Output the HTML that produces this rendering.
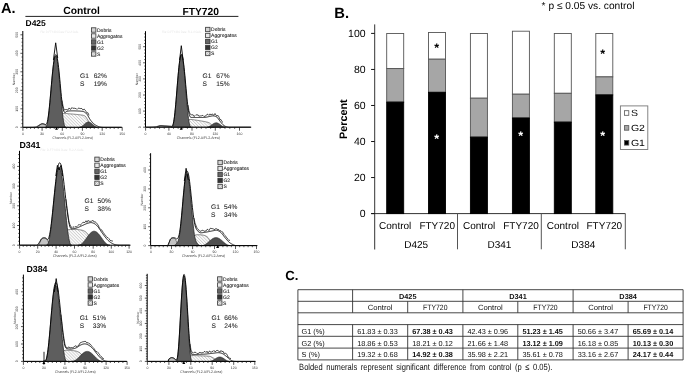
<!DOCTYPE html><html><head><meta charset="utf-8"><style>
html,body{margin:0;padding:0;background:#fff;}svg{filter:grayscale(100%);}body{width:685px;height:374px;overflow:hidden;position:relative;}
svg{position:absolute;left:0;top:0;}text{font-family:"Liberation Sans",sans-serif;text-rendering:geometricPrecision;}
</style></head><body>
<svg width="685" height="374" viewBox="0 0 685 374">
<defs><pattern id="hatch" width="2.2" height="2.2" patternUnits="userSpaceOnUse" patternTransform="rotate(-45)"><rect width="2.2" height="2.2" fill="#fafafa"/><line x1="0" y1="0" x2="0" y2="2.2" stroke="#888" stroke-width="0.6"/></pattern>
<pattern id="hatch2" width="1.6" height="1.6" patternUnits="userSpaceOnUse" patternTransform="rotate(45)"><rect width="1.6" height="1.6" fill="#eee"/><line x1="0" y1="0" x2="0" y2="1.6" stroke="#555" stroke-width="0.5"/></pattern></defs>
<text x="1" y="12.9" font-size="14.6" font-weight="bold" fill="#000">A.</text>
<text x="63.3" y="14.4" font-size="10.3" font-weight="bold" fill="#000">Control</text>
<text x="182.4" y="14.6" font-size="10.3" font-weight="bold" fill="#000">FTY720</text>
<path d="M25.4,16.4H238.4" stroke="#222" stroke-width="1"/>
<text x="25.5" y="26.3" font-size="8.5" font-weight="bold" fill="#000">D425</text>
<text x="19.4" y="148.0" font-size="8.8" font-weight="bold" fill="#000">D341</text>
<text x="26.4" y="271.7" font-size="8.8" font-weight="bold" fill="#000">D384</text>
<path d="M59,127.3 L59,127.3 L59.4,126 L59.8,124.13 L60.2,122.01 L60.6,119.96 L61,118.3 L61.4,116.66 L61.8,115.33 L62.2,114.33 L62.6,113.77 L63,113.67 L63.4,113.59 L63.8,113.53 L64.2,113.49 L64.6,113.47 L65,113.46 L65.4,113.47 L65.8,113.48 L66.2,113.51 L66.6,113.54 L67,113.58 L67.4,113.63 L67.8,113.67 L68.2,113.72 L68.6,113.77 L69,113.81 L69.4,113.85 L69.8,113.89 L70.2,113.91 L70.6,113.93 L71,113.96 L71.4,113.98 L71.8,114.01 L72.2,114.04 L72.6,114.07 L73,114.1 L73.4,114.14 L73.8,114.17 L74.2,114.21 L74.6,114.24 L75,114.28 L75.4,114.32 L75.8,114.36 L76.2,114.4 L76.6,114.44 L77,114.48 L77.4,114.52 L77.8,114.57 L78.2,114.61 L78.6,114.65 L79,114.69 L79.4,114.74 L79.8,114.78 L80.2,114.84 L80.6,114.91 L81,114.97 L81.4,115.03 L81.8,115.08 L82.2,115.14 L82.6,115.2 L83,115.28 L83.4,115.38 L83.8,115.49 L84.2,115.63 L84.6,115.8 L85,116 L85.4,116.42 L85.8,116.92 L86.2,117.49 L86.6,118.1 L87,118.74 L87.4,119.38 L87.8,120 L88.2,120.66 L88.6,121.41 L89,122.18 L89.4,122.95 L89.8,123.68 L90.2,124.35 L90.6,124.97 L91,125.62 L91.4,126.2 L91.8,126.69 L92.2,127.08 L92.6,127.3 L92.6,127.3Z" fill="url(#hatch)" stroke="#333" stroke-width="0.6"/>
<path d="M37,127.3 L37,127.3 L37.4,127.05 L37.8,126.69 L38.2,126.28 L38.6,125.86 L39,125.5 L39.4,125.28 L39.8,125.04 L40.2,124.81 L40.6,124.59 L41,124.4 L41.4,124.24 L41.8,124.13 L42.2,124.08 L42.6,124.09 L43,124.15 L43.4,124.24 L43.8,124.36 L44.2,124.5 L44.6,124.65 L45,124.8 L45.4,125.06 L45.8,125.37 L46.2,125.7 L46.6,126.02 L47,126.3 L47.4,126.55 L47.8,126.78 L48.2,127 L48.6,127.17 L49,127.3 L49,127.3Z" fill="#c4c4c4" stroke="#333" stroke-width="0.6"/>
<path d="M79.4,127.3 L79.4,127.27 L79.8,127.22 L80.2,127.14 L80.6,127.02 L81,126.86 L81.4,126.65 L81.8,126.41 L82.2,126.14 L82.6,125.83 L83,125.5 L83.4,125.15 L83.8,124.79 L84.2,124.43 L84.6,124.07 L85,123.72 L85.4,123.39 L85.8,123.08 L86.2,122.8 L86.6,122.55 L87,122.35 L87.4,122.19 L87.8,122.08 L88.2,122.01 L88.6,122 L89,122.04 L89.4,122.13 L89.8,122.26 L90.2,122.45 L90.6,122.67 L91,122.93 L91.4,123.23 L91.8,123.55 L92.2,123.89 L92.6,124.25 L93,124.61 L93.4,124.97 L93.8,125.33 L94.2,125.67 L94.6,125.99 L95,126.28 L95.4,126.54 L95.8,126.76 L96.2,126.94 L96.6,127.08 L97,127.19 L97.4,127.25 L97.4,127.3Z" fill="#4e4e4e" stroke="#222" stroke-width="0.6"/>
<path d="M45.4,127.3 L45.4,127.29 L45.8,127.15 L46.2,126.76 L46.6,126 L47,124.82 L47.4,123.17 L47.8,121.04 L48.2,118.42 L48.6,115.35 L49,111.86 L49.4,108.01 L49.8,103.86 L50.2,99.47 L50.6,94.94 L51,90.33 L51.4,85.72 L51.8,81.21 L52.2,76.87 L52.6,72.77 L53,69 L53.4,65.6 L53.8,62.65 L54.2,60.2 L54.6,58.28 L55,56.93 L55.4,56.17 L55.8,56.02 L56.2,56.48 L56.6,57.56 L57,59.23 L57.4,61.46 L57.8,64.22 L58.2,67.45 L58.6,71.1 L59,75.11 L59.4,79.4 L59.8,83.89 L60.2,88.51 L60.6,93.17 L61,97.79 L61.4,102.28 L61.8,106.57 L62.2,110.57 L62.6,114.22 L63,117.47 L63.4,120.26 L63.8,122.57 L64.2,124.38 L64.6,125.71 L65,126.59 L65.4,127.08 L65.8,127.27 L65.8,127.3Z" fill="#5e5e5e" stroke="#1a1a1a" stroke-width="0.7"/>
<path d="M23.4,127.3 L23.8,127.3 L24.2,127.3 L24.6,127.3 L25,127.3 L25.4,127.3 L25.8,127.3 L26.2,127.3 L26.6,127.3 L27,127.3 L27.4,127.3 L27.8,127.3 L28.2,127.3 L28.6,127.3 L29,127.3 L29.4,127.3 L29.8,127.3 L30.2,127.3 L30.6,127.29 L31,127.28 L31.4,127.28 L31.8,127.28 L32.2,127.27 L32.6,127.27 L33,127.26 L33.4,127.24 L33.8,127.23 L34.2,127.2 L34.6,127.17 L35,127.13 L35.4,127.09 L35.8,127.03 L36.2,126.93 L36.6,126.75 L37,126.53 L37.4,126.29 L37.8,126.04 L38.2,125.78 L38.6,125.53 L39,125.3 L39.4,125.06 L39.8,124.81 L40.2,124.55 L40.6,124.29 L41,124.07 L41.4,123.88 L41.8,123.74 L42.2,123.67 L42.6,123.66 L43,123.7 L43.4,123.78 L43.8,123.89 L44.2,124.02 L44.6,124.16 L45,124.3 L45.4,124.45 L45.8,124.51 L46.2,124.34 L46.6,123.82 L47,122.86 L47.4,121.42 L47.8,119.46 L48.2,116.97 L48.6,113.99 L49,110.58 L49.4,106.8 L49.8,102.71 L50.2,98.37 L50.6,93.88 L51,89.3 L51.4,84.71 L51.8,80.21 L52.2,75.87 L52.6,71.77 L53,67.99 L53.4,64.58 L53.8,61.61 L54.2,59.11 L54.6,57.14 L55,55.72 L55.4,54.86 L55.8,54.59 L56.2,54.88 L56.6,55.69 L57,57.04 L57.4,58.93 L57.8,61.31 L58.2,64.17 L58.6,67.45 L59,71.11 L59.4,75.09 L59.8,79.31 L60.2,83.66 L60.6,88.04 L61,92.35 L61.4,96.48 L61.8,100.32 L62.2,103.63 L62.6,106.23 L63,108.28 L63.4,109.86 L63.8,111.05 L64.2,111.94 L64.6,112.43 L65,112.55 L65.4,112.37 L65.8,112.01 L66.2,111.7 L66.6,111.51 L67,111.37 L67.4,111.25 L67.8,111.16 L68.2,111.09 L68.6,111.03 L69,110.99 L69.4,110.95 L69.8,110.92 L70.2,110.89 L70.6,110.88 L71,110.87 L71.4,110.87 L71.8,110.86 L72.2,110.86 L72.6,110.86 L73,110.86 L73.4,110.87 L73.8,110.87 L74.2,110.88 L74.6,110.89 L75,110.9 L75.4,110.91 L75.8,110.92 L76.2,110.94 L76.6,110.95 L77,110.97 L77.4,110.98 L77.8,111 L78.2,111.02 L78.6,111.04 L79,111.05 L79.4,111.07 L79.8,111.09 L80.2,111.12 L80.6,111.16 L81,111.2 L81.4,111.24 L81.8,111.28 L82.2,111.33 L82.6,111.4 L83,111.49 L83.4,111.59 L83.8,111.72 L84.2,111.91 L84.6,112.14 L85,112.41 L85.4,112.7 L85.8,113.03 L86.2,113.41 L86.6,113.83 L87,114.3 L87.4,114.86 L87.8,115.51 L88.2,116.23 L88.6,116.97 L89,117.71 L89.4,118.41 L89.8,119.03 L90.2,119.66 L90.6,120.28 L91,120.79 L91.4,121.26 L91.8,121.74 L92.2,122.19 L92.6,122.57 L93,122.96 L93.4,123.35 L93.8,123.74 L94.2,124.12 L94.6,124.47 L95,124.8 L95.4,125.03 L95.8,125.26 L96.2,125.48 L96.6,125.69 L97,125.89 L97.4,126.08 L97.8,126.25 L98.2,126.42 L98.6,126.57 L99,126.7 L99.4,126.82 L99.8,126.91 L100.2,126.99 L100.6,127.06 L101,127.12 L101.4,127.17 L101.8,127.21 L102.2,127.24 L102.6,127.27 L103,127.3 L103.4,127.3 L103.8,127.3 L104.2,127.3 L104.6,127.3 L105,127.3 L105.4,127.3 L105.8,127.3 L106.2,127.3 L106.6,127.3 L107,127.3 L107.4,127.3 L107.8,127.3 L108.2,127.3 L108.6,127.3 L109,127.3 L109.4,127.3 L109.8,127.3 L110.2,127.3 L110.6,127.3 L111,127.3 L111.4,127.3 L111.8,127.3 L112.2,127.3 L112.6,127.3 L113,127.3 L113.4,127.3 L113.8,127.3 L114.2,127.3 L114.6,127.3 L115,127.3 L115.4,127.3 L115.8,127.3 L116.2,127.3 L116.6,127.3 L117,127.3 L117.4,127.3 L117.8,127.3 L118.2,127.3 L118.6,127.3 L119,127.3 L119.4,127.3 L119.8,127.3 L120.2,127.3 L120.6,127.3 L121,127.3 L121.4,127.3" fill="none" stroke="#000" stroke-width="0.9"/>
<path d="M62,100.39 L63,105.88 L64,109.52 L65,110.02 L66,109.22 L67,110.02 L68,109.89 L69,107.94 L70,109.13 L71,109.16 L72,107.47 L73,108.63 L74,107.84 L75,108.65 L76,108.33 L77,109.44 L78,108.41 L79,107.95 L80,108.75 L81,108.37 L82,108.63 L83,110.15 L84,108.93 L85,109.91 L86,111.35 L87,113.03 L88,112.76 L89,115.47" fill="none" stroke="#111" stroke-width="0.7"/>
<path d="M53.4,60 L55.7,42.8 L57.7,58" fill="none" stroke="#000" stroke-width="0.9"/>
<text x="40.4" y="33" font-size="3.2" fill="#e6e6e6" textLength="38" lengthAdjust="spacingAndGlyphs">File: D-FTY.001  Data: FL2-A  Cells</text>
<path d="M22.8,31V127.3H122.2" fill="none" stroke="#000" stroke-width="1"/>
<path d="M20.4,127.3H22.8 M21.5,123.6H22.8 M21.5,119.9H22.8 M21.5,116.2H22.8 M21.5,112.5H22.8 M20.4,108.8H22.8 M21.5,105.1H22.8 M21.5,101.4H22.8 M21.5,97.7H22.8 M21.5,94H22.8 M20.4,90.3H22.8 M21.5,86.6H22.8 M21.5,82.9H22.8 M21.5,79.2H22.8 M21.5,75.5H22.8 M20.4,71.8H22.8 M21.5,68.1H22.8 M21.5,64.4H22.8 M21.5,60.7H22.8 M21.5,57H22.8 M20.4,53.3H22.8 M21.5,49.6H22.8 M21.5,45.9H22.8 M21.5,42.2H22.8 M21.5,38.5H22.8 M20.4,34.8H22.8" stroke="#111" stroke-width="0.7"/>
<text transform="translate(17.8,127.3) rotate(-90)" font-size="3.5" text-anchor="middle" fill="#333">0</text>
<text transform="translate(17.8,108.8) rotate(-90)" font-size="3.5" text-anchor="middle" fill="#333">100</text>
<text transform="translate(17.8,90.3) rotate(-90)" font-size="3.5" text-anchor="middle" fill="#333">200</text>
<text transform="translate(17.8,71.8) rotate(-90)" font-size="3.5" text-anchor="middle" fill="#333">300</text>
<text transform="translate(17.8,53.3) rotate(-90)" font-size="3.5" text-anchor="middle" fill="#333">400</text>
<text transform="translate(17.8,34.8) rotate(-90)" font-size="3.5" text-anchor="middle" fill="#333">500</text>
<text transform="translate(14.9,79.15) rotate(-90)" font-size="3.4" text-anchor="middle" fill="#444">Number</text>
<text x="22.9" y="135" font-size="3.5" text-anchor="middle" fill="#333">0</text>
<text x="42.1" y="135" font-size="3.5" text-anchor="middle" fill="#333">30</text>
<text x="62.3" y="135" font-size="3.5" text-anchor="middle" fill="#333">60</text>
<text x="82.4" y="135" font-size="3.5" text-anchor="middle" fill="#333">90</text>
<text x="102.2" y="135" font-size="3.5" text-anchor="middle" fill="#333">120</text>
<text x="122.2" y="135" font-size="3.5" text-anchor="middle" fill="#333">150</text>
<path d="M22.9,127.3v3.5 M26.74,127.3v1.6 M30.58,127.3v1.6 M34.42,127.3v1.6 M38.26,127.3v1.6 M42.1,127.3v3.5 M46.14,127.3v1.6 M50.18,127.3v1.6 M54.22,127.3v1.6 M58.26,127.3v1.6 M62.3,127.3v3.5 M66.32,127.3v1.6 M70.34,127.3v1.6 M74.36,127.3v1.6 M78.38,127.3v1.6 M82.4,127.3v3.5 M86.36,127.3v1.6 M90.32,127.3v1.6 M94.28,127.3v1.6 M98.24,127.3v1.6 M102.2,127.3v3.5 M106.2,127.3v1.6 M110.2,127.3v1.6 M114.2,127.3v1.6 M118.2,127.3v1.6 M122.2,127.3v3.5" stroke="#111" stroke-width="0.7"/>
<text x="52.6" y="138.7" font-size="3.7" fill="#444" textLength="40.2" lengthAdjust="spacingAndGlyphs">Channels (FL2-A/FL2-Area)</text>
<path d="M56.5,127 l1.5,2.8 h-3z" fill="#000"/>
<rect x="91.5" y="27.8" width="4.4" height="4.4" fill="#d4d4d4" stroke="#333" stroke-width="0.8"/>
<text x="97" y="31.9" font-size="5.0" fill="#222" stroke="#222" stroke-width="0.08">Debris</text>
<rect x="91.5" y="33.8" width="4.4" height="4.4" fill="#e8e8e8" stroke="#333" stroke-width="0.8"/>
<text x="97" y="37.9" font-size="5.0" fill="#222" stroke="#222" stroke-width="0.08">Aggregates</text>
<rect x="91.5" y="39.8" width="4.4" height="4.4" fill="#666" stroke="#333" stroke-width="0.8"/>
<text x="97" y="43.9" font-size="5.0" fill="#222" stroke="#222" stroke-width="0.08">G1</text>
<rect x="91.5" y="45.8" width="4.4" height="4.4" fill="#333" stroke="#333" stroke-width="0.8"/>
<text x="97" y="49.9" font-size="5.0" fill="#222" stroke="#222" stroke-width="0.08">G2</text>
<rect x="91.5" y="51.8" width="4.4" height="4.4" fill="url(#hatch2)" stroke="#333" stroke-width="0.8"/>
<text x="97" y="55.9" font-size="5.0" fill="#222" stroke="#222" stroke-width="0.08">S</text>
<text x="80" y="78.2" font-size="6.6" fill="#2a2a2a" stroke="#2a2a2a" stroke-width="0.1">G1</text>
<text x="93.7" y="78.2" font-size="6.6" fill="#2a2a2a" stroke="#2a2a2a" stroke-width="0.1">62%</text>
<text x="80" y="86.2" font-size="6.6" fill="#2a2a2a" stroke="#2a2a2a" stroke-width="0.1">S</text>
<text x="93.7" y="86.2" font-size="6.6" fill="#2a2a2a" stroke="#2a2a2a" stroke-width="0.1">19%</text>
<path d="M185.3,127.2 L185.3,127.2 L185.7,126.89 L186.1,125.99 L186.5,124.86 L186.9,123.68 L187.3,122.63 L187.7,121.71 L188.1,120.84 L188.5,120.16 L188.9,119.68 L189.3,119.55 L189.7,119.5 L190.1,119.47 L190.5,119.46 L190.9,119.46 L191.3,119.48 L191.7,119.51 L192.1,119.55 L192.5,119.6 L192.9,119.65 L193.3,119.71 L193.7,119.78 L194.1,119.85 L194.5,119.92 L194.9,119.98 L195.3,120.03 L195.7,120.08 L196.1,120.13 L196.5,120.18 L196.9,120.24 L197.3,120.3 L197.7,120.36 L198.1,120.42 L198.5,120.49 L198.9,120.56 L199.3,120.63 L199.7,120.7 L200.1,120.77 L200.5,120.85 L200.9,120.92 L201.3,120.99 L201.7,121.07 L202.1,121.14 L202.5,121.21 L202.9,121.28 L203.3,121.34 L203.7,121.41 L204.1,121.47 L204.5,121.53 L204.9,121.59 L205.3,121.69 L205.7,121.8 L206.1,121.9 L206.5,121.99 L206.9,122.07 L207.3,122.16 L207.7,122.26 L208.1,122.37 L208.5,122.5 L208.9,122.66 L209.3,122.9 L209.7,123.2 L210.1,123.54 L210.5,123.89 L210.9,124.26 L211.3,124.62 L211.7,124.96 L212.1,125.31 L212.5,125.78 L212.9,126.25 L213.3,126.67 L213.7,127.01 L214.1,127.2 L214.1,127.2Z" fill="url(#hatch)" stroke="#333" stroke-width="0.6"/>
<path d="M156.9,127.2 L156.9,127.2 L157.3,127.12 L157.7,126.98 L158.1,126.8 L158.5,126.6 L158.9,126.4 L159.3,126.22 L159.7,126.08 L160.1,125.99 L160.5,125.95 L160.9,125.92 L161.3,125.9 L161.7,125.89 L162.1,125.88 L162.5,125.89 L162.9,125.9 L163.3,125.91 L163.7,125.93 L164.1,125.95 L164.5,125.97 L164.9,125.99 L165.3,126.02 L165.7,126.05 L166.1,126.09 L166.5,126.14 L166.9,126.18 L167.3,126.24 L167.7,126.29 L168.1,126.35 L168.5,126.4 L168.9,126.46 L169.3,126.51 L169.7,126.56 L170.1,126.63 L170.5,126.76 L170.9,126.9 L171.3,127.03 L171.7,127.14 L172.1,127.2 L172.1,127.2Z" fill="#c4c4c4" stroke="#333" stroke-width="0.6"/>
<path d="M207.3,127.2 L207.3,127.16 L207.7,127.11 L208.1,127.02 L208.5,126.9 L208.9,126.75 L209.3,126.57 L209.7,126.35 L210.1,126.11 L210.5,125.85 L210.9,125.56 L211.3,125.27 L211.7,124.97 L212.1,124.67 L212.5,124.37 L212.9,124.09 L213.3,123.82 L213.7,123.57 L214.1,123.36 L214.5,123.17 L214.9,123.02 L215.3,122.91 L215.7,122.83 L216.1,122.8 L216.5,122.81 L216.9,122.86 L217.3,122.96 L217.7,123.09 L218.1,123.26 L218.5,123.46 L218.9,123.69 L219.3,123.95 L219.7,124.23 L220.1,124.52 L220.5,124.82 L220.9,125.12 L221.3,125.42 L221.7,125.71 L222.1,125.98 L222.5,126.23 L222.9,126.46 L223.3,126.66 L223.7,126.83 L224.1,126.97 L224.5,127.07 L224.9,127.14 L225.3,127.18 L225.3,127.2Z" fill="#4e4e4e" stroke="#222" stroke-width="0.6"/>
<path d="M171.7,127.2 L171.7,127.19 L172.1,127.02 L172.5,126.55 L172.9,125.66 L173.3,124.27 L173.7,122.34 L174.1,119.86 L174.5,116.85 L174.9,113.33 L175.3,109.38 L175.7,105.05 L176.1,100.43 L176.5,95.61 L176.9,90.68 L177.3,85.75 L177.7,80.91 L178.1,76.25 L178.5,71.88 L178.9,67.87 L179.3,64.31 L179.7,61.26 L180.1,58.79 L180.5,56.94 L180.9,55.74 L181.3,55.22 L181.7,55.39 L182.1,56.25 L182.5,57.78 L182.9,59.95 L183.3,62.72 L183.7,66.03 L184.1,69.83 L184.5,74.03 L184.9,78.55 L185.3,83.31 L185.7,88.21 L186.1,93.15 L186.5,98.04 L186.9,102.77 L187.3,107.25 L187.7,111.41 L188.1,115.15 L188.5,118.42 L188.9,121.17 L189.3,123.38 L189.7,125.03 L190.1,126.17 L190.5,126.83 L190.9,127.13 L191.3,127.2 L191.3,127.2Z" fill="#5e5e5e" stroke="#1a1a1a" stroke-width="0.7"/>
<path d="M146.1,127.2 L146.5,127.2 L146.9,127.2 L147.3,127.2 L147.7,127.2 L148.1,127.2 L148.5,127.2 L148.9,127.2 L149.3,127.2 L149.7,127.2 L150.1,127.2 L150.5,127.18 L150.9,127.17 L151.3,127.15 L151.7,127.14 L152.1,127.12 L152.5,127.1 L152.9,127.07 L153.3,127.05 L153.7,127.02 L154.1,126.99 L154.5,126.96 L154.9,126.92 L155.3,126.88 L155.7,126.84 L156.1,126.78 L156.5,126.69 L156.9,126.57 L157.3,126.44 L157.7,126.31 L158.1,126.17 L158.5,126.04 L158.9,125.92 L159.3,125.82 L159.7,125.74 L160.1,125.69 L160.5,125.67 L160.9,125.67 L161.3,125.68 L161.7,125.7 L162.1,125.73 L162.5,125.77 L162.9,125.81 L163.3,125.85 L163.7,125.89 L164.1,125.93 L164.5,125.97 L164.9,125.99 L165.3,126.01 L165.7,126.03 L166.1,126.05 L166.5,126.06 L166.9,126.07 L167.3,126.09 L167.7,126.1 L168.1,126.11 L168.5,126.13 L168.9,126.14 L169.3,126.16 L169.7,126.18 L170.1,126.21 L170.5,126.23 L170.9,126.26 L171.3,126.29 L171.7,126.31 L172.1,126.18 L172.5,125.75 L172.9,124.89 L173.3,123.53 L173.7,121.64 L174.1,119.19 L174.5,116.2 L174.9,112.71 L175.3,108.76 L175.7,104.44 L176.1,99.83 L176.5,95.01 L176.9,90.08 L177.3,85.14 L177.7,80.3 L178.1,75.64 L178.5,71.25 L178.9,67.23 L179.3,63.65 L179.7,60.57 L180.1,58.06 L180.5,56.17 L180.9,54.92 L181.3,54.35 L181.7,54.45 L182.1,55.21 L182.5,56.56 L182.9,58.53 L183.3,61.07 L183.7,64.12 L184.1,67.62 L184.5,71.49 L184.9,75.65 L185.3,79.98 L185.7,84.38 L186.1,88.77 L186.5,93.07 L186.9,97.21 L187.3,101.13 L187.7,104.75 L188.1,107.99 L188.5,110.64 L188.9,112.82 L189.3,114.52 L189.7,115.77 L190.1,116.64 L190.5,117.22 L190.9,117.46 L191.3,117.48 L191.7,117.46 L192.1,117.45 L192.5,117.45 L192.9,117.46 L193.3,117.47 L193.7,117.49 L194.1,117.5 L194.5,117.51 L194.9,117.5 L195.3,117.5 L195.7,117.49 L196.1,117.49 L196.5,117.49 L196.9,117.49 L197.3,117.49 L197.7,117.49 L198.1,117.49 L198.5,117.49 L198.9,117.5 L199.3,117.5 L199.7,117.5 L200.1,117.5 L200.5,117.5 L200.9,117.5 L201.3,117.5 L201.7,117.5 L202.1,117.49 L202.5,117.49 L202.9,117.48 L203.3,117.47 L203.7,117.46 L204.1,117.44 L204.5,117.43 L204.9,117.41 L205.3,117.36 L205.7,117.3 L206.1,117.23 L206.5,117.15 L206.9,117.06 L207.3,116.97 L207.7,116.88 L208.1,116.78 L208.5,116.69 L208.9,116.6 L209.3,116.52 L209.7,116.45 L210.1,116.38 L210.5,116.29 L210.9,116.19 L211.3,116.1 L211.7,116.02 L212.1,115.95 L212.5,115.9 L212.9,115.87 L213.3,115.88 L213.7,115.92 L214.1,115.98 L214.5,116.06 L214.9,116.16 L215.3,116.29 L215.7,116.44 L216.1,116.63 L216.5,116.86 L216.9,117.13 L217.3,117.49 L217.7,117.96 L218.1,118.49 L218.5,119.06 L218.9,119.66 L219.3,120.24 L219.7,120.81 L220.1,121.33 L220.5,121.83 L220.9,122.34 L221.3,122.85 L221.7,123.34 L222.1,123.8 L222.5,124.23 L222.9,124.61 L223.3,124.99 L223.7,125.33 L224.1,125.62 L224.5,125.87 L224.9,126.09 L225.3,126.3 L225.7,126.47 L226.1,126.6 L226.5,126.72 L226.9,126.82 L227.3,126.92 L227.7,127 L228.1,127.07 L228.5,127.14 L228.9,127.19 L229.3,127.2 L229.7,127.2 L230.1,127.2 L230.5,127.2 L230.9,127.2 L231.3,127.2 L231.7,127.2 L232.1,127.2 L232.5,127.2 L232.9,127.2 L233.3,127.2 L233.7,127.2 L234.1,127.2 L234.5,127.2 L234.9,127.2 L235.3,127.2 L235.7,127.2 L236.1,127.2 L236.5,127.2 L236.9,127.2 L237.3,127.2 L237.7,127.2 L238.1,127.2 L238.5,127.2 L238.9,127.2 L239.3,127.2 L239.7,127.2 L240.1,127.2 L240.5,127.2 L240.9,127.2 L241.3,127.2 L241.7,127.2 L242.1,127.2 L242.5,127.2 L242.9,127.2 L243.3,127.2 L243.7,127.2 L244.1,127.2 L244.5,127.2 L244.9,127.2 L245.3,127.2 L245.7,127.2 L246.1,127.2 L246.5,127.2 L246.9,127.2 L247.3,127.2 L247.7,127.2 L248.1,127.2 L248.5,127.2 L248.9,127.2 L249.3,127.2 L249.7,127.2 L250.1,127.2 L250.5,127.2" fill="none" stroke="#000" stroke-width="0.9"/>
<path d="M188,105.08 L189,110.85 L190,113.88 L191,114.6 L192,115.02 L193,114.63 L194,116.63 L195,115.68 L196,114.61 L197,115.26 L198,114.71 L199,116.45 L200,115.67 L201,116.16 L202,115.5 L203,115.41 L204,116.62 L205,116.12 L206,115.83 L207,114.22 L208,114.32 L209,115.43 L210,113.85 L211,115.06 L212,113.8 L213,114.79 L214,115.16 L215,113.47 L216,115.32 L217,115.93 L218,115.39 L219,117.08 L220,119.76 L221,119.56 L222,121.7 L223,122.41" fill="none" stroke="#111" stroke-width="0.7"/>
<path d="M179.6,60 L181.3,45.7 L183.1,60" fill="none" stroke="#000" stroke-width="0.9"/>
<text x="161.9" y="33" font-size="3.2" fill="#e6e6e6" textLength="39.4" lengthAdjust="spacingAndGlyphs">File: D-FTY.001  Data: FL2-A  Cells</text>
<path d="M145.5,31.2V127.2H251.2" fill="none" stroke="#000" stroke-width="1"/>
<path d="M143.1,127.2H145.5 M144.2,123.98H145.5 M144.2,120.76H145.5 M144.2,117.54H145.5 M144.2,114.32H145.5 M143.1,111.1H145.5 M144.2,107.88H145.5 M144.2,104.66H145.5 M144.2,101.44H145.5 M144.2,98.22H145.5 M143.1,95H145.5 M144.2,91.78H145.5 M144.2,88.56H145.5 M144.2,85.34H145.5 M144.2,82.12H145.5 M143.1,78.9H145.5 M144.2,75.68H145.5 M144.2,72.46H145.5 M144.2,69.24H145.5 M144.2,66.02H145.5 M143.1,62.8H145.5 M144.2,59.58H145.5 M144.2,56.36H145.5 M144.2,53.14H145.5 M144.2,49.92H145.5 M143.1,46.7H145.5 M144.2,43.48H145.5 M144.2,40.26H145.5 M144.2,37.04H145.5 M144.2,33.82H145.5" stroke="#111" stroke-width="0.7"/>
<text transform="translate(140.5,127.2) rotate(-90)" font-size="3.5" text-anchor="middle" fill="#333">0</text>
<text transform="translate(140.5,111.1) rotate(-90)" font-size="3.5" text-anchor="middle" fill="#333">100</text>
<text transform="translate(140.5,95) rotate(-90)" font-size="3.5" text-anchor="middle" fill="#333">200</text>
<text transform="translate(140.5,78.9) rotate(-90)" font-size="3.5" text-anchor="middle" fill="#333">300</text>
<text transform="translate(140.5,62.8) rotate(-90)" font-size="3.5" text-anchor="middle" fill="#333">400</text>
<text transform="translate(140.5,46.7) rotate(-90)" font-size="3.5" text-anchor="middle" fill="#333">500</text>
<text transform="translate(137.6,79.2) rotate(-90)" font-size="3.4" text-anchor="middle" fill="#444">Number</text>
<text x="145.6" y="134.9" font-size="3.5" text-anchor="middle" fill="#333">0</text>
<text x="168.9" y="134.9" font-size="3.5" text-anchor="middle" fill="#333">40</text>
<text x="192" y="134.9" font-size="3.5" text-anchor="middle" fill="#333">80</text>
<text x="215.3" y="134.9" font-size="3.5" text-anchor="middle" fill="#333">120</text>
<text x="239.5" y="134.9" font-size="3.5" text-anchor="middle" fill="#333">160</text>
<path d="M145.6,127.2v3.5 M150.26,127.2v1.6 M154.92,127.2v1.6 M159.58,127.2v1.6 M164.24,127.2v1.6 M168.9,127.2v3.5 M173.52,127.2v1.6 M178.14,127.2v1.6 M182.76,127.2v1.6 M187.38,127.2v1.6 M192,127.2v3.5 M196.66,127.2v1.6 M201.32,127.2v1.6 M205.98,127.2v1.6 M210.64,127.2v1.6 M215.3,127.2v3.5 M220.14,127.2v1.6 M224.98,127.2v1.6 M229.82,127.2v1.6 M234.66,127.2v1.6 M239.5,127.2v3.5" stroke="#111" stroke-width="0.7"/>
<text x="176.8" y="138.6" font-size="3.7" fill="#444" textLength="43" lengthAdjust="spacingAndGlyphs">Channels (FL2-A/FL2-Area)</text>
<path d="M181.2,126.9 l1.5,2.8 h-3z" fill="#000"/>
<rect x="205.6" y="27.3" width="4.4" height="4.4" fill="#d4d4d4" stroke="#333" stroke-width="0.8"/>
<text x="211.1" y="31.4" font-size="5.0" fill="#222" stroke="#222" stroke-width="0.08">Debris</text>
<rect x="205.6" y="33.3" width="4.4" height="4.4" fill="#e8e8e8" stroke="#333" stroke-width="0.8"/>
<text x="211.1" y="37.4" font-size="5.0" fill="#222" stroke="#222" stroke-width="0.08">Aggregates</text>
<rect x="205.6" y="39.3" width="4.4" height="4.4" fill="#666" stroke="#333" stroke-width="0.8"/>
<text x="211.1" y="43.4" font-size="5.0" fill="#222" stroke="#222" stroke-width="0.08">G1</text>
<rect x="205.6" y="45.3" width="4.4" height="4.4" fill="#333" stroke="#333" stroke-width="0.8"/>
<text x="211.1" y="49.4" font-size="5.0" fill="#222" stroke="#222" stroke-width="0.08">G2</text>
<rect x="205.6" y="51.3" width="4.4" height="4.4" fill="url(#hatch2)" stroke="#333" stroke-width="0.8"/>
<text x="211.1" y="55.4" font-size="5.0" fill="#222" stroke="#222" stroke-width="0.08">S</text>
<text x="202.6" y="77.5" font-size="6.6" fill="#2a2a2a" stroke="#2a2a2a" stroke-width="0.1">G1</text>
<text x="216.3" y="77.5" font-size="6.6" fill="#2a2a2a" stroke="#2a2a2a" stroke-width="0.1">67%</text>
<text x="202.6" y="85.5" font-size="6.6" fill="#2a2a2a" stroke="#2a2a2a" stroke-width="0.1">S</text>
<text x="216.3" y="85.5" font-size="6.6" fill="#2a2a2a" stroke="#2a2a2a" stroke-width="0.1">15%</text>
<path d="M63.3,245.2 L63.3,245.2 L63.7,244.62 L64.1,242.96 L64.5,240.85 L64.9,238.54 L65.3,236.27 L65.7,234.32 L66.1,232.83 L66.5,231.68 L66.9,230.92 L67.3,230.43 L67.7,230.07 L68.1,229.77 L68.5,229.68 L68.9,229.59 L69.3,229.52 L69.7,229.47 L70.1,229.42 L70.5,229.39 L70.9,229.36 L71.3,229.34 L71.7,229.33 L72.1,229.33 L72.5,229.33 L72.9,229.34 L73.3,229.35 L73.7,229.36 L74.1,229.37 L74.5,229.38 L74.9,229.4 L75.3,229.41 L75.7,229.43 L76.1,229.45 L76.5,229.47 L76.9,229.5 L77.3,229.53 L77.7,229.57 L78.1,229.61 L78.5,229.65 L78.9,229.7 L79.3,229.75 L79.7,229.8 L80.1,229.86 L80.5,229.93 L80.9,229.99 L81.3,230.07 L81.7,230.14 L82.1,230.23 L82.5,230.37 L82.9,230.51 L83.3,230.65 L83.7,230.81 L84.1,230.98 L84.5,231.18 L84.9,231.4 L85.3,231.66 L85.7,231.95 L86.1,232.29 L86.5,232.68 L86.9,233.12 L87.3,233.6 L87.7,234.11 L88.1,234.65 L88.5,235.19 L88.9,235.74 L89.3,236.29 L89.7,236.82 L90.1,237.37 L90.5,238.06 L90.9,238.76 L91.3,239.47 L91.7,240.17 L92.1,240.85 L92.5,241.48 L92.9,242.06 L93.3,242.79 L93.7,243.52 L94.1,244.17 L94.5,244.71 L94.9,245.12 L95.3,245.2 L95.3,245.2Z" fill="url(#hatch)" stroke="#333" stroke-width="0.6"/>
<path d="M38.5,245.2 L38.5,245.2 L38.9,244.62 L39.3,243.77 L39.7,242.85 L40.1,242 L40.5,241.13 L40.9,240.26 L41.3,239.5 L41.7,239.01 L42.1,238.71 L42.5,238.48 L42.9,238.33 L43.3,238.23 L43.7,238.18 L44.1,238.17 L44.5,238.2 L44.9,238.26 L45.3,238.37 L45.7,238.54 L46.1,238.78 L46.5,239.15 L46.9,239.61 L47.3,240.13 L47.7,240.72 L48.1,241.37 L48.5,242.19 L48.9,243.12 L49.3,244.04 L49.7,244.8 L50.1,245.2 L50.1,245.2Z" fill="#c4c4c4" stroke="#333" stroke-width="0.6"/>
<path d="M78.1,245.2 L78.1,245.18 L78.5,245.14 L78.9,245.09 L79.3,245 L79.7,244.88 L80.1,244.73 L80.5,244.55 L80.9,244.32 L81.3,244.06 L81.7,243.77 L82.1,243.43 L82.5,243.06 L82.9,242.66 L83.3,242.23 L83.7,241.77 L84.1,241.28 L84.5,240.78 L84.9,240.25 L85.3,239.71 L85.7,239.15 L86.1,238.59 L86.5,238.03 L86.9,237.46 L87.3,236.9 L87.7,236.35 L88.1,235.81 L88.5,235.28 L88.9,234.77 L89.3,234.29 L89.7,233.83 L90.1,233.4 L90.5,233 L90.9,232.64 L91.3,232.31 L91.7,232.02 L92.1,231.77 L92.5,231.57 L92.9,231.41 L93.3,231.29 L93.7,231.22 L94.1,231.2 L94.5,231.22 L94.9,231.29 L95.3,231.41 L95.7,231.57 L96.1,231.77 L96.5,232.02 L96.9,232.31 L97.3,232.64 L97.7,233 L98.1,233.4 L98.5,233.83 L98.9,234.29 L99.3,234.77 L99.7,235.28 L100.1,235.81 L100.5,236.35 L100.9,236.9 L101.3,237.46 L101.7,238.03 L102.1,238.59 L102.5,239.15 L102.9,239.71 L103.3,240.25 L103.7,240.78 L104.1,241.28 L104.5,241.77 L104.9,242.23 L105.3,242.66 L105.7,243.06 L106.1,243.43 L106.5,243.77 L106.9,244.06 L107.3,244.32 L107.7,244.55 L108.1,244.73 L108.5,244.88 L108.9,245 L109.3,245.09 L109.7,245.14 L110.1,245.18 L110.1,245.2Z" fill="#4e4e4e" stroke="#222" stroke-width="0.6"/>
<path d="M46.5,245.2 L46.5,245.18 L46.9,245.07 L47.3,244.79 L47.7,244.28 L48.1,243.49 L48.5,242.38 L48.9,240.95 L49.3,239.17 L49.7,237.05 L50.1,234.59 L50.5,231.83 L50.9,228.77 L51.3,225.45 L51.7,221.9 L52.1,218.16 L52.5,214.28 L52.9,210.29 L53.3,206.25 L53.7,202.19 L54.1,198.17 L54.5,194.23 L54.9,190.42 L55.3,186.77 L55.7,183.34 L56.1,180.16 L56.5,177.26 L56.9,174.68 L57.3,172.45 L57.7,170.59 L58.1,169.12 L58.5,168.06 L58.9,167.41 L59.3,167.2 L59.7,167.43 L60.1,168.11 L60.5,169.24 L60.9,170.8 L61.3,172.77 L61.7,175.14 L62.1,177.87 L62.5,180.93 L62.9,184.28 L63.3,187.89 L63.7,191.71 L64.1,195.7 L64.5,199.8 L64.9,203.96 L65.3,208.15 L65.7,212.29 L66.1,216.36 L66.5,220.28 L66.9,224.03 L67.3,227.55 L67.7,230.81 L68.1,233.76 L68.5,236.39 L68.9,238.67 L69.3,240.59 L69.7,242.14 L70.1,243.34 L70.5,244.2 L70.9,244.75 L71.3,245.06 L71.7,245.18 L71.7,245.2Z" fill="#5e5e5e" stroke="#1a1a1a" stroke-width="0.7"/>
<path d="M20.1,245.2 L20.5,245.2 L20.9,245.2 L21.3,245.2 L21.7,245.2 L22.1,245.2 L22.5,245.2 L22.9,245.2 L23.3,245.2 L23.7,245.2 L24.1,245.2 L24.5,245.2 L24.9,245.2 L25.3,245.2 L25.7,245.2 L26.1,245.2 L26.5,245.2 L26.9,245.2 L27.3,245.2 L27.7,245.2 L28.1,245.2 L28.5,245.2 L28.9,245.2 L29.3,245.2 L29.7,245.2 L30.1,245.2 L30.5,245.2 L30.9,245.2 L31.3,245.2 L31.7,245.2 L32.1,245.2 L32.5,245.2 L32.9,245.2 L33.3,245.2 L33.7,245.2 L34.1,245.2 L34.5,245.2 L34.9,245.2 L35.3,245.2 L35.7,245.2 L36.1,245.2 L36.5,245.2 L36.9,245.2 L37.3,244.98 L37.7,244.59 L38.1,244.11 L38.5,243.57 L38.9,243.01 L39.3,242.46 L39.7,241.87 L40.1,241.13 L40.5,240.38 L40.9,239.66 L41.3,239.04 L41.7,238.6 L42.1,238.28 L42.5,238.06 L42.9,237.92 L43.3,237.83 L43.7,237.78 L44.1,237.75 L44.5,237.76 L44.9,237.8 L45.3,237.9 L45.7,238.05 L46.1,238.28 L46.5,238.67 L46.9,239.08 L47.3,239.37 L47.7,239.41 L48.1,239.1 L48.5,238.44 L48.9,237.44 L49.3,236.06 L49.7,234.31 L50.1,232.14 L50.5,229.57 L50.9,226.69 L51.3,223.53 L51.7,220.12 L52.1,216.5 L52.5,212.71 L52.9,208.78 L53.3,204.77 L53.7,200.73 L54.1,196.7 L54.5,192.73 L54.9,188.85 L55.3,185.09 L55.7,181.5 L56.1,178.12 L56.5,175.03 L56.9,172.24 L57.3,169.77 L57.7,167.64 L58.1,165.89 L58.5,164.51 L58.9,163.53 L59.3,162.94 L59.7,162.76 L60.1,163 L60.5,163.62 L60.9,164.62 L61.3,165.99 L61.7,167.72 L62.1,169.8 L62.5,172.2 L62.9,174.91 L63.3,177.89 L63.7,181.12 L64.1,184.52 L64.5,187.92 L64.9,191.39 L65.3,194.89 L65.7,198.41 L66.1,201.89 L66.5,205.3 L66.9,208.62 L67.3,211.88 L67.7,214.96 L68.1,217.79 L68.5,220.33 L68.9,222.55 L69.3,224.44 L69.7,225.97 L70.1,227.15 L70.5,227.99 L70.9,228.51 L71.3,228.76 L71.7,228.82 L72.1,228.8 L72.5,228.76 L72.9,228.72 L73.3,228.69 L73.7,228.65 L74.1,228.61 L74.5,228.55 L74.9,228.49 L75.3,228.4 L75.7,228.29 L76.1,228.17 L76.5,228.05 L76.9,227.92 L77.3,227.78 L77.7,227.62 L78.1,227.46 L78.5,227.29 L78.9,227.11 L79.3,226.93 L79.7,226.74 L80.1,226.55 L80.5,226.37 L80.9,226.18 L81.3,226 L81.7,225.83 L82.1,225.66 L82.5,225.48 L82.9,225.3 L83.3,225.12 L83.7,224.93 L84.1,224.74 L84.5,224.55 L84.9,224.36 L85.3,224.18 L85.7,224.01 L86.1,223.84 L86.5,223.68 L86.9,223.53 L87.3,223.4 L87.7,223.28 L88.1,223.17 L88.5,223.04 L88.9,222.92 L89.3,222.82 L89.7,222.73 L90.1,222.67 L90.5,222.63 L90.9,222.61 L91.3,222.62 L91.7,222.67 L92.1,222.75 L92.5,222.86 L92.9,222.98 L93.3,223.13 L93.7,223.29 L94.1,223.48 L94.5,223.7 L94.9,223.94 L95.3,224.21 L95.7,224.51 L96.1,224.84 L96.5,225.2 L96.9,225.6 L97.3,226.01 L97.7,226.47 L98.1,226.98 L98.5,227.51 L98.9,228.08 L99.3,228.67 L99.7,229.28 L100.1,229.89 L100.5,230.51 L100.9,231.12 L101.3,231.71 L101.7,232.29 L102.1,232.84 L102.5,233.38 L102.9,233.94 L103.3,234.5 L103.7,235.06 L104.1,235.62 L104.5,236.17 L104.9,236.71 L105.3,237.23 L105.7,237.74 L106.1,238.22 L106.5,238.67 L106.9,239.1 L107.3,239.56 L107.7,240.01 L108.1,240.42 L108.5,240.8 L108.9,241.15 L109.3,241.48 L109.7,241.79 L110.1,242.08 L110.5,242.36 L110.9,242.63 L111.3,242.9 L111.7,243.14 L112.1,243.37 L112.5,243.59 L112.9,243.78 L113.3,243.97 L113.7,244.14 L114.1,244.29 L114.5,244.44 L114.9,244.57 L115.3,244.69 L115.7,244.79 L116.1,244.88 L116.5,244.95 L116.9,245.01 L117.3,245.05 L117.7,245.1 L118.1,245.13 L118.5,245.16 L118.9,245.19 L119.3,245.2 L119.7,245.2 L120.1,245.2 L120.5,245.2 L120.9,245.2 L121.3,245.2 L121.7,245.2 L122.1,245.2 L122.5,245.2 L122.9,245.2 L123.3,245.2 L123.7,245.2 L124.1,245.2 L124.5,245.2 L124.9,245.2 L125.3,245.2 L125.7,245.2 L126.1,245.2 L126.5,245.2 L126.9,245.2 L127.3,245.2 L127.7,245.2 L128.1,245.2 L128.5,245.2 L128.9,245.2 L129.3,245.2 L129.7,245.2" fill="none" stroke="#000" stroke-width="0.9"/>
<path d="M66,199.31 L67,208.1 L68,214.68 L69,221.9 L70,224.71 L71,226.79 L72,227.68 L73,226.6 L74,227.54 L75,226.51 L76,227.05 L77,226.69 L78,225.57 L79,224.24 L80,225.33 L81,224.65 L82,223.32 L83,222.17 L84,222.52 L85,222.45 L86,220.73 L87,222.39 L88,220.31 L89,221.26 L90,221.37 L91,221.35 L92,221.04 L93,220.22 L94,222.04 L95,221.73 L96,222.35 L97,223.88 L98,224.64 L99,227.09 L100,228.61 L101,229.81 L102,230.2 L103,232.14 L104,233.79 L105,234.55 L106,236.1 L107,237.54 L108,237.58 L109,238.7 L110,240.47 L111,240.44 L112,241.16 L113,240.91" fill="none" stroke="#111" stroke-width="0.7"/>
<path d="M55.8,176 L57.4,165.4 L59.2,170 L61,165.4 L62.6,176" fill="none" stroke="#000" stroke-width="0.9"/>
<text x="40.5" y="151.3" font-size="3.2" fill="#e6e6e6" textLength="43" lengthAdjust="spacingAndGlyphs">File: D-FTY.001  Data: FL2-A  Cells</text>
<path d="M19.5,150.8V245.2H130.5" fill="none" stroke="#000" stroke-width="1"/>
<path d="M17.1,245.2H19.5 M18.2,241.26H19.5 M18.2,237.32H19.5 M18.2,233.38H19.5 M18.2,229.44H19.5 M17.1,225.5H19.5 M18.2,221.56H19.5 M18.2,217.62H19.5 M18.2,213.68H19.5 M18.2,209.74H19.5 M17.1,205.8H19.5 M18.2,201.86H19.5 M18.2,197.92H19.5 M18.2,193.98H19.5 M18.2,190.04H19.5 M17.1,186.1H19.5 M18.2,182.16H19.5 M18.2,178.22H19.5 M18.2,174.28H19.5 M18.2,170.34H19.5 M17.1,166.4H19.5 M18.2,162.46H19.5 M18.2,158.52H19.5 M18.2,154.58H19.5" stroke="#111" stroke-width="0.7"/>
<text transform="translate(14.5,245.2) rotate(-90)" font-size="3.5" text-anchor="middle" fill="#333">0</text>
<text transform="translate(14.5,225.5) rotate(-90)" font-size="3.5" text-anchor="middle" fill="#333">100</text>
<text transform="translate(14.5,205.8) rotate(-90)" font-size="3.5" text-anchor="middle" fill="#333">200</text>
<text transform="translate(14.5,186.1) rotate(-90)" font-size="3.5" text-anchor="middle" fill="#333">300</text>
<text transform="translate(14.5,166.4) rotate(-90)" font-size="3.5" text-anchor="middle" fill="#333">400</text>
<text transform="translate(11.6,198) rotate(-90)" font-size="3.4" text-anchor="middle" fill="#444">Number</text>
<text x="19.6" y="252.9" font-size="3.5" text-anchor="middle" fill="#333">0</text>
<text x="37.7" y="252.9" font-size="3.5" text-anchor="middle" fill="#333">20</text>
<text x="56.1" y="252.9" font-size="3.5" text-anchor="middle" fill="#333">40</text>
<text x="74.5" y="252.9" font-size="3.5" text-anchor="middle" fill="#333">60</text>
<text x="93.2" y="252.9" font-size="3.5" text-anchor="middle" fill="#333">80</text>
<text x="111.3" y="252.9" font-size="3.5" text-anchor="middle" fill="#333">100</text>
<text x="129.1" y="252.9" font-size="3.5" text-anchor="middle" fill="#333">120</text>
<path d="M19.6,245.2v3.5 M23.22,245.2v1.6 M26.84,245.2v1.6 M30.46,245.2v1.6 M34.08,245.2v1.6 M37.7,245.2v3.5 M41.38,245.2v1.6 M45.06,245.2v1.6 M48.74,245.2v1.6 M52.42,245.2v1.6 M56.1,245.2v3.5 M59.78,245.2v1.6 M63.46,245.2v1.6 M67.14,245.2v1.6 M70.82,245.2v1.6 M74.5,245.2v3.5 M78.24,245.2v1.6 M81.98,245.2v1.6 M85.72,245.2v1.6 M89.46,245.2v1.6 M93.2,245.2v3.5 M96.82,245.2v1.6 M100.44,245.2v1.6 M104.06,245.2v1.6 M107.68,245.2v1.6 M111.3,245.2v3.5 M114.86,245.2v1.6 M118.42,245.2v1.6 M121.98,245.2v1.6 M125.54,245.2v1.6 M129.1,245.2v3.5" stroke="#111" stroke-width="0.7"/>
<text x="52.9" y="256.6" font-size="3.7" fill="#444" textLength="43.8" lengthAdjust="spacingAndGlyphs">Channels (FL2-A/FL2-Area)</text>
<rect x="94.8" y="157.1" width="4.4" height="4.4" fill="#d4d4d4" stroke="#333" stroke-width="0.8"/>
<text x="100.3" y="161.2" font-size="5.0" fill="#222" stroke="#222" stroke-width="0.08">Debris</text>
<rect x="94.8" y="163.1" width="4.4" height="4.4" fill="#e8e8e8" stroke="#333" stroke-width="0.8"/>
<text x="100.3" y="167.2" font-size="5.0" fill="#222" stroke="#222" stroke-width="0.08">Aggregates</text>
<rect x="94.8" y="169.1" width="4.4" height="4.4" fill="#666" stroke="#333" stroke-width="0.8"/>
<text x="100.3" y="173.2" font-size="5.0" fill="#222" stroke="#222" stroke-width="0.08">G1</text>
<rect x="94.8" y="175.1" width="4.4" height="4.4" fill="#333" stroke="#333" stroke-width="0.8"/>
<text x="100.3" y="179.2" font-size="5.0" fill="#222" stroke="#222" stroke-width="0.08">G2</text>
<rect x="94.8" y="181.1" width="4.4" height="4.4" fill="url(#hatch2)" stroke="#333" stroke-width="0.8"/>
<text x="100.3" y="185.2" font-size="5.0" fill="#222" stroke="#222" stroke-width="0.08">S</text>
<text x="84.5" y="203.4" font-size="6.6" fill="#2a2a2a" stroke="#2a2a2a" stroke-width="0.1">G1</text>
<text x="97.6" y="203.4" font-size="6.6" fill="#2a2a2a" stroke="#2a2a2a" stroke-width="0.1">50%</text>
<text x="84.5" y="211.4" font-size="6.6" fill="#2a2a2a" stroke="#2a2a2a" stroke-width="0.1">S</text>
<text x="97.6" y="211.4" font-size="6.6" fill="#2a2a2a" stroke="#2a2a2a" stroke-width="0.1">38%</text>
<path d="M190.8,245.6 L190.8,245.6 L191.2,245.21 L191.6,244.11 L192,242.71 L192.4,241.17 L192.8,239.67 L193.2,238.36 L193.6,237.27 L194,236.28 L194.4,235.68 L194.8,235.28 L195.2,235.05 L195.6,234.95 L196,234.88 L196.4,234.83 L196.8,234.78 L197.2,234.76 L197.6,234.74 L198,234.74 L198.4,234.74 L198.8,234.75 L199.2,234.76 L199.6,234.78 L200,234.8 L200.4,234.82 L200.8,234.85 L201.2,234.89 L201.6,234.93 L202,234.98 L202.4,235.04 L202.8,235.11 L203.2,235.18 L203.6,235.26 L204,235.35 L204.4,235.44 L204.8,235.55 L205.2,235.69 L205.6,235.89 L206,236.1 L206.4,236.34 L206.8,236.6 L207.2,236.89 L207.6,237.22 L208,237.6 L208.4,238.13 L208.8,238.73 L209.2,239.39 L209.6,240.08 L210,240.77 L210.4,241.44 L210.8,242.24 L211.2,243.16 L211.6,244.07 L212,244.88 L212.4,245.49 L212.8,245.6 L212.8,245.6Z" fill="url(#hatch)" stroke="#333" stroke-width="0.6"/>
<path d="M168,245.6 L168,245.6 L168.4,244.84 L168.8,243.75 L169.2,242.6 L169.6,241.48 L170,240.29 L170.4,239.29 L170.8,238.79 L171.2,238.47 L171.6,238.25 L172,238.1 L172.4,238.01 L172.8,237.98 L173.2,237.98 L173.6,238.02 L174,238.11 L174.4,238.25 L174.8,238.47 L175.2,238.87 L175.6,239.58 L176,240.44 L176.4,241.37 L176.8,242.4 L177.2,243.63 L177.6,244.79 L178,245.6 L178,245.6Z" fill="#c4c4c4" stroke="#333" stroke-width="0.6"/>
<path d="M202,245.6 L202,245.55 L202.4,245.5 L202.8,245.43 L203.2,245.34 L203.6,245.23 L204,245.09 L204.4,244.92 L204.8,244.73 L205.2,244.51 L205.6,244.27 L206,244.01 L206.4,243.73 L206.8,243.43 L207.2,243.11 L207.6,242.78 L208,242.44 L208.4,242.09 L208.8,241.74 L209.2,241.39 L209.6,241.03 L210,240.68 L210.4,240.34 L210.8,240.01 L211.2,239.69 L211.6,239.38 L212,239.09 L212.4,238.83 L212.8,238.58 L213.2,238.36 L213.6,238.16 L214,237.99 L214.4,237.85 L214.8,237.74 L215.2,237.66 L215.6,237.62 L216,237.6 L216.4,237.62 L216.8,237.66 L217.2,237.74 L217.6,237.85 L218,237.99 L218.4,238.16 L218.8,238.36 L219.2,238.58 L219.6,238.83 L220,239.09 L220.4,239.38 L220.8,239.69 L221.2,240.01 L221.6,240.34 L222,240.68 L222.4,241.03 L222.8,241.39 L223.2,241.74 L223.6,242.09 L224,242.44 L224.4,242.78 L224.8,243.11 L225.2,243.43 L225.6,243.73 L226,244.01 L226.4,244.27 L226.8,244.51 L227.2,244.73 L227.6,244.92 L228,245.09 L228.4,245.23 L228.8,245.34 L229.2,245.43 L229.6,245.5 L230,245.55 L230,245.6Z" fill="#4e4e4e" stroke="#222" stroke-width="0.6"/>
<path d="M173.6,245.6 L173.6,245.57 L174,245.5 L174.4,245.39 L174.8,245.22 L175.2,244.97 L175.6,244.66 L176,244.27 L176.4,243.8 L176.8,243.26 L177.2,242.65 L177.6,241.97 L178,241.17 L178.4,240.11 L178.8,238.71 L179.2,236.88 L179.6,234.59 L180,231.85 L180.4,228.65 L180.8,225.05 L181.2,221.1 L181.6,216.86 L182,212.42 L182.4,207.85 L182.8,203.25 L183.2,198.72 L183.6,194.33 L184,190.18 L184.4,186.35 L184.8,182.91 L185.2,179.93 L185.6,177.48 L186,175.6 L186.4,174.32 L186.8,173.68 L187.2,173.68 L187.6,174.32 L188,175.6 L188.4,177.48 L188.8,179.93 L189.2,182.91 L189.6,186.35 L190,190.18 L190.4,194.33 L190.8,198.72 L191.2,203.25 L191.6,207.85 L192,212.42 L192.4,216.86 L192.8,221.1 L193.2,225.05 L193.6,228.65 L194,231.85 L194.4,234.59 L194.8,236.88 L195.2,238.71 L195.6,240.11 L196,241.17 L196.4,241.97 L196.8,242.65 L197.2,243.26 L197.6,243.8 L198,244.27 L198.4,244.66 L198.8,244.97 L199.2,245.22 L199.6,245.39 L200,245.5 L200.4,245.57 L200.4,245.6Z" fill="#5e5e5e" stroke="#1a1a1a" stroke-width="0.7"/>
<path d="M151.2,245.6 L151.6,245.6 L152,245.6 L152.4,245.6 L152.8,245.6 L153.2,245.6 L153.6,245.6 L154,245.6 L154.4,245.6 L154.8,245.6 L155.2,245.6 L155.6,245.6 L156,245.6 L156.4,245.6 L156.8,245.6 L157.2,245.6 L157.6,245.6 L158,245.6 L158.4,245.6 L158.8,245.6 L159.2,245.6 L159.6,245.6 L160,245.6 L160.4,245.6 L160.8,245.6 L161.2,245.6 L161.6,245.6 L162,245.6 L162.4,245.6 L162.8,245.6 L163.2,245.6 L163.6,245.6 L164,245.6 L164.4,245.6 L164.8,245.6 L165.2,245.6 L165.6,245.6 L166,245.6 L166.4,245.6 L166.8,245.6 L167.2,245.6 L167.6,245.49 L168,244.84 L168.4,243.98 L168.8,243.05 L169.2,242.14 L169.6,241.13 L170,240.12 L170.4,239.27 L170.8,238.77 L171.2,238.41 L171.6,238.13 L172,237.94 L172.4,237.82 L172.8,237.77 L173.2,237.75 L173.6,237.76 L174,237.79 L174.4,237.82 L174.8,237.87 L175.2,237.99 L175.6,238.27 L176,238.58 L176.4,238.85 L176.8,238.98 L177.2,238.82 L177.6,238.47 L178,237.98 L178.4,237.21 L178.8,236.07 L179.2,234.49 L179.6,232.41 L180,229.85 L180.4,226.77 L180.8,223.28 L181.2,219.42 L181.6,215.26 L182,210.88 L182.4,206.37 L182.8,201.8 L183.2,197.27 L183.6,192.87 L184,188.68 L184.4,184.79 L184.8,181.28 L185.2,178.21 L185.6,175.65 L186,173.63 L186.4,172.2 L186.8,171.38 L187.2,171.17 L187.6,171.59 L188,172.6 L188.4,174.08 L188.8,176.07 L189.2,178.54 L189.6,181.42 L190,184.68 L190.4,188.23 L190.8,192.02 L191.2,195.94 L191.6,199.85 L192,203.67 L192.4,207.36 L192.8,210.86 L193.2,214.12 L193.6,217.13 L194,219.85 L194.4,222.25 L194.8,224.29 L195.2,225.96 L195.6,227.27 L196,228.26 L196.4,229.03 L196.8,229.67 L197.2,230.25 L197.6,230.78 L198,231.25 L198.4,231.67 L198.8,232.02 L199.2,232.31 L199.6,232.52 L200,232.68 L200.4,232.77 L200.8,232.8 L201.2,232.79 L201.6,232.77 L202,232.73 L202.4,232.69 L202.8,232.64 L203.2,232.59 L203.6,232.53 L204,232.47 L204.4,232.4 L204.8,232.33 L205.2,232.27 L205.6,232.21 L206,232.14 L206.4,232.07 L206.8,232 L207.2,231.93 L207.6,231.85 L208,231.77 L208.4,231.69 L208.8,231.62 L209.2,231.54 L209.6,231.47 L210,231.4 L210.4,231.31 L210.8,231.23 L211.2,231.14 L211.6,231.05 L212,230.96 L212.4,230.88 L212.8,230.8 L213.2,230.73 L213.6,230.66 L214,230.6 L214.4,230.51 L214.8,230.42 L215.2,230.32 L215.6,230.24 L216,230.19 L216.4,230.19 L216.8,230.24 L217.2,230.35 L217.6,230.48 L218,230.63 L218.4,230.81 L218.8,231.01 L219.2,231.24 L219.6,231.49 L220,231.77 L220.4,232.08 L220.8,232.42 L221.2,232.79 L221.6,233.21 L222,233.67 L222.4,234.17 L222.8,234.69 L223.2,235.23 L223.6,235.78 L224,236.32 L224.4,236.85 L224.8,237.36 L225.2,237.84 L225.6,238.32 L226,238.81 L226.4,239.29 L226.8,239.77 L227.2,240.24 L227.6,240.69 L228,241.13 L228.4,241.54 L228.8,241.92 L229.2,242.27 L229.6,242.6 L230,242.9 L230.4,243.18 L230.8,243.44 L231.2,243.69 L231.6,243.92 L232,244.13 L232.4,244.33 L232.8,244.51 L233.2,244.71 L233.6,244.91 L234,245.08 L234.4,245.22 L234.8,245.34 L235.2,245.44 L235.6,245.53 L236,245.6 L236.4,245.6 L236.8,245.6 L237.2,245.6 L237.6,245.6 L238,245.6 L238.4,245.6 L238.8,245.6 L239.2,245.6 L239.6,245.6 L240,245.6 L240.4,245.6 L240.8,245.6 L241.2,245.6 L241.6,245.6 L242,245.6 L242.4,245.6 L242.8,245.6 L243.2,245.6 L243.6,245.6 L244,245.6 L244.4,245.6 L244.8,245.6 L245.2,245.6 L245.6,245.6 L246,245.6 L246.4,245.6 L246.8,245.6 L247.2,245.6 L247.6,245.6 L248,245.6 L248.4,245.6 L248.8,245.6 L249.2,245.6 L249.6,245.6 L250,245.6 L250.4,245.6 L250.8,245.6 L251.2,245.6 L251.6,245.6 L252,245.6 L252.4,245.6 L252.8,245.6 L253.2,245.6 L253.6,245.6 L254,245.6 L254.4,245.6 L254.8,245.6 L255.2,245.6 L255.6,245.6 L256,245.6 L256.4,245.6 L256.8,245.6" fill="none" stroke="#000" stroke-width="0.9"/>
<path d="M194,218.05 L195,223.14 L196,225.43 L197,228.14 L198,229.33 L199,230.08 L200,231.47 L201,230.87 L202,230.55 L203,230.07 L204,231.46 L205,230.83 L206,231.14 L207,229.38 L208,229.45 L209,230.69 L210,228.44 L211,228.26 L212,228.72 L213,228.61 L214,229.45 L215,229.53 L216,228.23 L217,229.37 L218,229.41 L219,229.79 L220,230.91 L221,230.78 L222,231.9 L223,232.31 L224,234.38 L225,235.39 L226,236.91 L227,237.75 L228,239.32 L229,240.69 L230,239.91" fill="none" stroke="#111" stroke-width="0.7"/>
<path d="M184.3,181 L186.1,168.3 L188.2,180" fill="none" stroke="#000" stroke-width="0.9"/>
<path d="M150.6,153.2V245.6H257.4" fill="none" stroke="#000" stroke-width="1"/>
<path d="M148.2,245.6H150.6 M149.3,241.82H150.6 M149.3,238.04H150.6 M149.3,234.26H150.6 M149.3,230.48H150.6 M148.2,226.7H150.6 M149.3,222.92H150.6 M149.3,219.14H150.6 M149.3,215.36H150.6 M149.3,211.58H150.6 M148.2,207.8H150.6 M149.3,204.02H150.6 M149.3,200.24H150.6 M149.3,196.46H150.6 M149.3,192.68H150.6 M148.2,188.9H150.6 M149.3,185.12H150.6 M149.3,181.34H150.6 M149.3,177.56H150.6 M149.3,173.78H150.6 M148.2,170H150.6 M149.3,166.22H150.6 M149.3,162.44H150.6 M149.3,158.66H150.6 M149.3,154.88H150.6" stroke="#111" stroke-width="0.7"/>
<text transform="translate(145.6,245.6) rotate(-90)" font-size="3.5" text-anchor="middle" fill="#333">0</text>
<text transform="translate(145.6,226.7) rotate(-90)" font-size="3.5" text-anchor="middle" fill="#333">100</text>
<text transform="translate(145.6,207.8) rotate(-90)" font-size="3.5" text-anchor="middle" fill="#333">200</text>
<text transform="translate(145.6,188.9) rotate(-90)" font-size="3.5" text-anchor="middle" fill="#333">300</text>
<text transform="translate(145.6,170) rotate(-90)" font-size="3.5" text-anchor="middle" fill="#333">400</text>
<text transform="translate(142.7,199.4) rotate(-90)" font-size="3.4" text-anchor="middle" fill="#444">Number</text>
<text x="150.9" y="253.3" font-size="3.5" text-anchor="middle" fill="#333">0</text>
<text x="171.5" y="253.3" font-size="3.5" text-anchor="middle" fill="#333">30</text>
<text x="192.6" y="253.3" font-size="3.5" text-anchor="middle" fill="#333">60</text>
<text x="214.5" y="253.3" font-size="3.5" text-anchor="middle" fill="#333">90</text>
<text x="235.5" y="253.3" font-size="3.5" text-anchor="middle" fill="#333">120</text>
<text x="256.5" y="253.3" font-size="3.5" text-anchor="middle" fill="#333">150</text>
<path d="M150.9,245.6v3.5 M155.02,245.6v1.6 M159.14,245.6v1.6 M163.26,245.6v1.6 M167.38,245.6v1.6 M171.5,245.6v3.5 M175.72,245.6v1.6 M179.94,245.6v1.6 M184.16,245.6v1.6 M188.38,245.6v1.6 M192.6,245.6v3.5 M196.98,245.6v1.6 M201.36,245.6v1.6 M205.74,245.6v1.6 M210.12,245.6v1.6 M214.5,245.6v3.5 M218.7,245.6v1.6 M222.9,245.6v1.6 M227.1,245.6v1.6 M231.3,245.6v1.6 M235.5,245.6v3.5 M239.7,245.6v1.6 M243.9,245.6v1.6 M248.1,245.6v1.6 M252.3,245.6v1.6 M256.5,245.6v3.5" stroke="#111" stroke-width="0.7"/>
<text x="182" y="257" font-size="3.7" fill="#444" textLength="43" lengthAdjust="spacingAndGlyphs">Channels (FL2-A/FL2-Area)</text>
<path d="M217.6,245.3 l1.5,2.8 h-3z" fill="#000"/>
<rect x="217.9" y="160.3" width="4.4" height="4.4" fill="#d4d4d4" stroke="#333" stroke-width="0.8"/>
<text x="223.4" y="164.4" font-size="5.0" fill="#222" stroke="#222" stroke-width="0.08">Debris</text>
<rect x="217.9" y="166.3" width="4.4" height="4.4" fill="#e8e8e8" stroke="#333" stroke-width="0.8"/>
<text x="223.4" y="170.4" font-size="5.0" fill="#222" stroke="#222" stroke-width="0.08">Aggregates</text>
<rect x="217.9" y="172.3" width="4.4" height="4.4" fill="#666" stroke="#333" stroke-width="0.8"/>
<text x="223.4" y="176.4" font-size="5.0" fill="#222" stroke="#222" stroke-width="0.08">G1</text>
<rect x="217.9" y="178.3" width="4.4" height="4.4" fill="#333" stroke="#333" stroke-width="0.8"/>
<text x="223.4" y="182.4" font-size="5.0" fill="#222" stroke="#222" stroke-width="0.08">G2</text>
<rect x="217.9" y="184.3" width="4.4" height="4.4" fill="url(#hatch2)" stroke="#333" stroke-width="0.8"/>
<text x="223.4" y="188.4" font-size="5.0" fill="#222" stroke="#222" stroke-width="0.08">S</text>
<text x="211.1" y="208.6" font-size="6.6" fill="#2a2a2a" stroke="#2a2a2a" stroke-width="0.1">G1</text>
<text x="224.1" y="208.6" font-size="6.6" fill="#2a2a2a" stroke="#2a2a2a" stroke-width="0.1">54%</text>
<text x="211.1" y="216.6" font-size="6.6" fill="#2a2a2a" stroke="#2a2a2a" stroke-width="0.1">S</text>
<text x="224.1" y="216.6" font-size="6.6" fill="#2a2a2a" stroke="#2a2a2a" stroke-width="0.1">34%</text>
<path d="M60.4,361.4 L60.4,361.4 L60.8,360.58 L61.2,358.98 L61.6,357.09 L62,355.22 L62.4,353.69 L62.8,352.47 L63.2,351.6 L63.6,351.02 L64,350.6 L64.4,350.51 L64.8,350.44 L65.2,350.38 L65.6,350.34 L66,350.31 L66.4,350.29 L66.8,350.28 L67.2,350.28 L67.6,350.29 L68,350.3 L68.4,350.32 L68.8,350.34 L69.2,350.36 L69.6,350.38 L70,350.4 L70.4,350.42 L70.8,350.44 L71.2,350.46 L71.6,350.49 L72,350.53 L72.4,350.56 L72.8,350.6 L73.2,350.65 L73.6,350.7 L74,350.75 L74.4,350.81 L74.8,350.88 L75.2,350.94 L75.6,351.02 L76,351.1 L76.4,351.23 L76.8,351.36 L77.2,351.51 L77.6,351.66 L78,351.82 L78.4,352 L78.8,352.2 L79.2,352.41 L79.6,352.65 L80,352.9 L80.4,353.29 L80.8,353.72 L81.2,354.2 L81.6,354.7 L82,355.21 L82.4,355.7 L82.8,356.18 L83.2,356.72 L83.6,357.37 L84,357.99 L84.4,358.59 L84.8,359.14 L85.2,359.65 L85.6,360.14 L86,360.59 L86.4,360.98 L86.8,361.29 L87.2,361.4 L87.2,361.4Z" fill="url(#hatch)" stroke="#333" stroke-width="0.6"/>
<path d="M72,361.4 L72,361.37 L72.4,361.33 L72.8,361.26 L73.2,361.18 L73.6,361.07 L74,360.93 L74.4,360.77 L74.8,360.58 L75.2,360.35 L75.6,360.11 L76,359.83 L76.4,359.53 L76.8,359.21 L77.2,358.87 L77.6,358.51 L78,358.13 L78.4,357.74 L78.8,357.33 L79.2,356.92 L79.6,356.51 L80,356.09 L80.4,355.68 L80.8,355.27 L81.2,354.87 L81.6,354.47 L82,354.09 L82.4,353.73 L82.8,353.39 L83.2,353.06 L83.6,352.76 L84,352.49 L84.4,352.24 L84.8,352.02 L85.2,351.83 L85.6,351.68 L86,351.56 L86.4,351.47 L86.8,351.42 L87.2,351.4 L87.6,351.42 L88,351.47 L88.4,351.56 L88.8,351.68 L89.2,351.83 L89.6,352.02 L90,352.24 L90.4,352.49 L90.8,352.76 L91.2,353.06 L91.6,353.39 L92,353.73 L92.4,354.09 L92.8,354.47 L93.2,354.87 L93.6,355.27 L94,355.68 L94.4,356.09 L94.8,356.51 L95.2,356.92 L95.6,357.33 L96,357.74 L96.4,358.13 L96.8,358.51 L97.2,358.87 L97.6,359.21 L98,359.53 L98.4,359.83 L98.8,360.11 L99.2,360.35 L99.6,360.58 L100,360.77 L100.4,360.93 L100.8,361.07 L101.2,361.18 L101.6,361.26 L102,361.33 L102.4,361.37 L102.4,361.4Z" fill="#4e4e4e" stroke="#222" stroke-width="0.6"/>
<path d="M44.8,361.4 L44.8,361.39 L45.2,361.27 L45.6,360.9 L46,360.21 L46.4,359.12 L46.8,357.6 L47.2,355.61 L47.6,353.15 L48,350.25 L48.4,346.94 L48.8,343.25 L49.2,339.23 L49.6,334.95 L50,330.48 L50.4,325.88 L50.8,321.22 L51.2,316.58 L51.6,312.04 L52,307.67 L52.4,303.53 L52.8,299.68 L53.2,296.2 L53.6,293.14 L54,290.53 L54.4,288.43 L54.8,286.86 L55.2,285.85 L55.6,285.42 L56,285.56 L56.4,286.24 L56.8,287.47 L57.2,289.21 L57.6,291.46 L58,294.16 L58.4,297.29 L58.8,300.79 L59.2,304.62 L59.6,308.72 L60,313.03 L60.4,317.48 L60.8,322 L61.2,326.53 L61.6,331 L62,335.34 L62.4,339.49 L62.8,343.39 L63.2,346.98 L63.6,350.21 L64,353.04 L64.4,355.45 L64.8,357.43 L65.2,358.97 L65.6,360.08 L66,360.81 L66.4,361.22 L66.8,361.38 L66.8,361.4Z" fill="#5e5e5e" stroke="#1a1a1a" stroke-width="0.7"/>
<path d="M24,361.4 L24.4,361.4 L24.8,361.4 L25.2,361.4 L25.6,361.4 L26,361.4 L26.4,361.4 L26.8,361.4 L27.2,361.4 L27.6,361.4 L28,361.4 L28.4,361.4 L28.8,361.4 L29.2,361.4 L29.6,361.4 L30,361.4 L30.4,361.4 L30.8,361.4 L31.2,361.4 L31.6,361.4 L32,361.4 L32.4,361.4 L32.8,361.4 L33.2,361.4 L33.6,361.4 L34,361.4 L34.4,361.4 L34.8,361.4 L35.2,361.4 L35.6,361.4 L36,361.4 L36.4,361.4 L36.8,361.4 L37.2,361.4 L37.6,361.4 L38,361.4 L38.4,361.4 L38.8,361.4 L39.2,361.4 L39.6,361.4 L40,361.4 L40.4,361.4 L40.8,361.4 L41.2,361.4 L41.6,361.4 L42,361.4 L42.4,361.4 L42.8,361.4 L43.2,361.24 L43.6,360.74 L44,360.4 L44.4,360.52 L44.8,360.8 L45.2,360.78 L45.6,360.44 L46,359.75 L46.4,358.66 L46.8,357.12 L47.2,355.11 L47.6,352.61 L48,349.65 L48.4,346.28 L48.8,342.53 L49.2,338.44 L49.6,334.08 L50,329.52 L50.4,324.82 L50.8,320.06 L51.2,315.32 L51.6,310.66 L52,306.17 L52.4,301.91 L52.8,297.96 L53.2,294.38 L53.6,291.2 L54,288.48 L54.4,286.24 L54.8,284.52 L55.2,283.32 L55.6,282.67 L56,282.56 L56.4,282.94 L56.8,283.83 L57.2,285.2 L57.6,287.04 L58,289.32 L58.4,292.01 L58.8,295.07 L59.2,298.46 L59.6,302.13 L60,306.03 L60.4,309.92 L60.8,313.87 L61.2,317.82 L61.6,321.71 L62,325.5 L62.4,329.14 L62.8,332.59 L63.2,335.8 L63.6,338.7 L64,341.26 L64.4,343.44 L64.8,345.22 L65.2,346.59 L65.6,347.58 L66,348.21 L66.4,348.58 L66.8,348.73 L67.2,348.77 L67.6,348.81 L68,348.86 L68.4,348.91 L68.8,348.97 L69.2,349.02 L69.6,349.07 L70,349.11 L70.4,349.12 L70.8,349.11 L71.2,349.08 L71.6,349.04 L72,348.98 L72.4,348.92 L72.8,348.85 L73.2,348.77 L73.6,348.68 L74,348.58 L74.4,348.47 L74.8,348.35 L75.2,348.21 L75.6,348.06 L76,347.9 L76.4,347.72 L76.8,347.5 L77.2,347.26 L77.6,347 L78,346.73 L78.4,346.46 L78.8,346.18 L79.2,345.91 L79.6,345.65 L80,345.4 L80.4,345.18 L80.8,344.98 L81.2,344.8 L81.6,344.62 L82,344.46 L82.4,344.31 L82.8,344.19 L83.2,344.08 L83.6,344 L84,343.94 L84.4,343.9 L84.8,343.89 L85.2,343.91 L85.6,343.96 L86,344.03 L86.4,344.14 L86.8,344.27 L87.2,344.43 L87.6,344.61 L88,344.81 L88.4,345.03 L88.8,345.27 L89.2,345.53 L89.6,345.8 L90,346.1 L90.4,346.42 L90.8,346.76 L91.2,347.11 L91.6,347.48 L92,347.87 L92.4,348.27 L92.8,348.69 L93.2,349.12 L93.6,349.57 L94,350.06 L94.4,350.56 L94.8,351.08 L95.2,351.6 L95.6,352.13 L96,352.65 L96.4,353.16 L96.8,353.66 L97.2,354.14 L97.6,354.62 L98,355.11 L98.4,355.6 L98.8,356.09 L99.2,356.56 L99.6,357.01 L100,357.45 L100.4,357.85 L100.8,358.23 L101.2,358.6 L101.6,358.96 L102,359.28 L102.4,359.57 L102.8,359.82 L103.2,360.06 L103.6,360.27 L104,360.46 L104.4,360.64 L104.8,360.79 L105.2,360.91 L105.6,361.02 L106,361.11 L106.4,361.18 L106.8,361.25 L107.2,361.31 L107.6,361.36 L108,361.4 L108.4,361.4 L108.8,361.4 L109.2,361.4 L109.6,361.4 L110,361.4 L110.4,361.4 L110.8,361.4 L111.2,361.4 L111.6,361.4 L112,361.4 L112.4,361.4 L112.8,361.4 L113.2,361.4 L113.6,361.4 L114,361.4 L114.4,361.4 L114.8,361.4 L115.2,361.4 L115.6,361.4 L116,361.4 L116.4,361.4 L116.8,361.4 L117.2,361.4 L117.6,361.4 L118,361.4 L118.4,361.4 L118.8,361.4 L119.2,361.4 L119.6,361.4 L120,361.4 L120.4,361.4 L120.8,361.4 L121.2,361.4 L121.6,361.4 L122,361.4 L122.4,361.4 L122.8,361.4 L123.2,361.4 L123.6,361.4 L124,361.4 L124.4,361.4 L124.8,361.4 L125.2,361.4 L125.6,361.4 L126,361.4 L126.4,361.4" fill="none" stroke="#000" stroke-width="0.9"/>
<path d="M61,314.68 L62,323.39 L63,332.12 L64,338.79 L65,344.95 L66,347.1 L67,347.84 L68,347.76 L69,346.78 L70,348.22 L71,347.33 L72,347.91 L73,347.57 L74,347.03 L75,345.84 L76,345.96 L77,346.75 L78,345.53 L79,345.12 L80,342.88 L81,342.52 L82,342.09 L83,341.71 L84,341.7 L85,341.21 L86,341.69 L87,343.18 L88,342.34 L89,343.73 L90,343.84 L91,345.09 L92,346.33 L93,347.5 L94,348.51 L95,350.05 L96,351.79 L97,351.5 L98,352.76 L99,353.56 L100,355.33 L101,356.58 L102,357.03 L103,359.05 L104,358.37" fill="none" stroke="#111" stroke-width="0.7"/>
<path d="M54.4,292 L56.2,278.6 L58.1,292" fill="none" stroke="#000" stroke-width="0.9"/>
<path d="M44,361.4V351.8" stroke="#111" stroke-width="0.9"/>
<path d="M23.4,274.6V361.4H127.1" fill="none" stroke="#000" stroke-width="1"/>
<path d="M21,361.4H23.4 M22.1,357.92H23.4 M22.1,354.44H23.4 M22.1,350.96H23.4 M22.1,347.48H23.4 M21,344H23.4 M22.1,340.52H23.4 M22.1,337.04H23.4 M22.1,333.56H23.4 M22.1,330.08H23.4 M21,326.6H23.4 M22.1,323.12H23.4 M22.1,319.64H23.4 M22.1,316.16H23.4 M22.1,312.68H23.4 M21,309.2H23.4 M22.1,305.72H23.4 M22.1,302.24H23.4 M22.1,298.76H23.4 M22.1,295.28H23.4 M21,291.8H23.4 M22.1,288.32H23.4 M22.1,284.84H23.4 M22.1,281.36H23.4 M22.1,277.88H23.4" stroke="#111" stroke-width="0.7"/>
<text transform="translate(18.4,361.4) rotate(-90)" font-size="3.5" text-anchor="middle" fill="#333">0</text>
<text transform="translate(18.4,344) rotate(-90)" font-size="3.5" text-anchor="middle" fill="#333">100</text>
<text transform="translate(18.4,326.6) rotate(-90)" font-size="3.5" text-anchor="middle" fill="#333">200</text>
<text transform="translate(18.4,309.2) rotate(-90)" font-size="3.5" text-anchor="middle" fill="#333">300</text>
<text transform="translate(18.4,291.8) rotate(-90)" font-size="3.5" text-anchor="middle" fill="#333">400</text>
<text transform="translate(15.5,318) rotate(-90)" font-size="3.4" text-anchor="middle" fill="#444">Number</text>
<text x="23.4" y="369.1" font-size="3.5" text-anchor="middle" fill="#333">0</text>
<text x="43.9" y="369.1" font-size="3.5" text-anchor="middle" fill="#333">30</text>
<text x="64.9" y="369.1" font-size="3.5" text-anchor="middle" fill="#333">60</text>
<text x="85.1" y="369.1" font-size="3.5" text-anchor="middle" fill="#333">90</text>
<text x="106.1" y="369.1" font-size="3.5" text-anchor="middle" fill="#333">120</text>
<text x="127.1" y="369.1" font-size="3.5" text-anchor="middle" fill="#333">150</text>
<path d="M23.4,361.4v3.5 M27.5,361.4v1.6 M31.6,361.4v1.6 M35.7,361.4v1.6 M39.8,361.4v1.6 M43.9,361.4v3.5 M48.1,361.4v1.6 M52.3,361.4v1.6 M56.5,361.4v1.6 M60.7,361.4v1.6 M64.9,361.4v3.5 M68.94,361.4v1.6 M72.98,361.4v1.6 M77.02,361.4v1.6 M81.06,361.4v1.6 M85.1,361.4v3.5 M89.3,361.4v1.6 M93.5,361.4v1.6 M97.7,361.4v1.6 M101.9,361.4v1.6 M106.1,361.4v3.5 M110.3,361.4v1.6 M114.5,361.4v1.6 M118.7,361.4v1.6 M122.9,361.4v1.6 M127.1,361.4v3.5" stroke="#111" stroke-width="0.7"/>
<text x="55" y="372.8" font-size="3.7" fill="#444" textLength="40.6" lengthAdjust="spacingAndGlyphs">Channels (FL2-A/FL2-Area)</text>
<path d="M43.9,361.1 l1.5,2.8 h-3z" fill="#000"/>
<rect x="88.1" y="276.8" width="4.4" height="4.4" fill="#d4d4d4" stroke="#333" stroke-width="0.8"/>
<text x="93.6" y="280.9" font-size="5.0" fill="#222" stroke="#222" stroke-width="0.08">Debris</text>
<rect x="88.1" y="282.8" width="4.4" height="4.4" fill="#e8e8e8" stroke="#333" stroke-width="0.8"/>
<text x="93.6" y="286.9" font-size="5.0" fill="#222" stroke="#222" stroke-width="0.08">Aggregates</text>
<rect x="88.1" y="288.8" width="4.4" height="4.4" fill="#666" stroke="#333" stroke-width="0.8"/>
<text x="93.6" y="292.9" font-size="5.0" fill="#222" stroke="#222" stroke-width="0.08">G1</text>
<rect x="88.1" y="294.8" width="4.4" height="4.4" fill="#333" stroke="#333" stroke-width="0.8"/>
<text x="93.6" y="298.9" font-size="5.0" fill="#222" stroke="#222" stroke-width="0.08">G2</text>
<rect x="88.1" y="300.8" width="4.4" height="4.4" fill="url(#hatch2)" stroke="#333" stroke-width="0.8"/>
<text x="93.6" y="304.9" font-size="5.0" fill="#222" stroke="#222" stroke-width="0.08">S</text>
<text x="79.7" y="320" font-size="6.6" fill="#2a2a2a" stroke="#2a2a2a" stroke-width="0.1">G1</text>
<text x="92.8" y="320" font-size="6.6" fill="#2a2a2a" stroke="#2a2a2a" stroke-width="0.1">51%</text>
<text x="79.7" y="328" font-size="6.6" fill="#2a2a2a" stroke="#2a2a2a" stroke-width="0.1">S</text>
<text x="92.8" y="328" font-size="6.6" fill="#2a2a2a" stroke="#2a2a2a" stroke-width="0.1">33%</text>
<path d="M187.8,361.4 L187.8,361.4 L188.2,361.12 L188.6,360.28 L189,359.23 L189.4,358.16 L189.8,357.24 L190.2,356.55 L190.6,356.08 L191,355.8 L191.4,355.64 L191.8,355.58 L192.2,355.56 L192.6,355.55 L193,355.54 L193.4,355.54 L193.8,355.54 L194.2,355.54 L194.6,355.55 L195,355.56 L195.4,355.57 L195.8,355.58 L196.2,355.6 L196.6,355.62 L197,355.64 L197.4,355.66 L197.8,355.68 L198.2,355.7 L198.6,355.73 L199,355.75 L199.4,355.77 L199.8,355.79 L200.2,355.81 L200.6,355.82 L201,355.84 L201.4,355.85 L201.8,355.87 L202.2,355.88 L202.6,355.89 L203,355.91 L203.4,355.92 L203.8,355.94 L204.2,355.95 L204.6,355.97 L205,355.99 L205.4,356.01 L205.8,356.03 L206.2,356.05 L206.6,356.08 L207,356.1 L207.4,356.13 L207.8,356.17 L208.2,356.2 L208.6,356.24 L209,356.28 L209.4,356.33 L209.8,356.37 L210.2,356.47 L210.6,356.62 L211,356.8 L211.4,356.99 L211.8,357.19 L212.2,357.41 L212.6,357.63 L213,357.85 L213.4,358.08 L213.8,358.29 L214.2,358.57 L214.6,358.94 L215,359.33 L215.4,359.72 L215.8,360.08 L216.2,360.4 L216.6,360.7 L217,361 L217.4,361.2 L217.8,361.34 L218.2,361.4 L218.2,361.4Z" fill="url(#hatch)" stroke="#333" stroke-width="0.6"/>
<path d="M167.8,361.4 L167.8,361.4 L168.2,361.04 L168.6,359.92 L169,358.9 L169.4,358.63 L169.8,358.39 L170.2,358.18 L170.6,358.01 L171,357.89 L171.4,357.81 L171.8,357.79 L172.2,357.82 L172.6,357.9 L173,358.01 L173.4,358.16 L173.8,358.32 L174.2,358.55 L174.6,358.94 L175,359.37 L175.4,359.8 L175.8,360.22 L176.2,360.69 L176.6,361.11 L177,361.4 L177,361.4Z" fill="#c4c4c4" stroke="#333" stroke-width="0.6"/>
<path d="M209.8,361.4 L209.8,361.37 L210.2,361.33 L210.6,361.26 L211,361.17 L211.4,361.05 L211.8,360.9 L212.2,360.73 L212.6,360.53 L213,360.3 L213.4,360.06 L213.8,359.81 L214.2,359.54 L214.6,359.27 L215,359 L215.4,358.72 L215.8,358.46 L216.2,358.21 L216.6,357.97 L217,357.75 L217.4,357.55 L217.8,357.38 L218.2,357.24 L218.6,357.13 L219,357.05 L219.4,357.01 L219.8,357 L220.2,357.03 L220.6,357.09 L221,357.18 L221.4,357.31 L221.8,357.46 L222.2,357.65 L222.6,357.86 L223,358.08 L223.4,358.33 L223.8,358.59 L224.2,358.86 L224.6,359.13 L225,359.41 L225.4,359.68 L225.8,359.94 L226.2,360.19 L226.6,360.42 L227,360.63 L227.4,360.82 L227.8,360.98 L228.2,361.11 L228.6,361.22 L229,361.3 L229.4,361.35 L229.4,361.4Z" fill="#4e4e4e" stroke="#222" stroke-width="0.6"/>
<path d="M176.2,361.4 L176.2,361.39 L176.6,361.14 L177,360.3 L177.4,358.61 L177.8,355.95 L178.2,352.27 L178.6,347.61 L179,342.05 L179.4,335.76 L179.8,328.9 L180.2,321.7 L180.6,314.37 L181,307.14 L181.4,300.23 L181.8,293.87 L182.2,288.24 L182.6,283.52 L183,279.85 L183.4,277.33 L183.8,276.06 L184.2,276.05 L184.6,277.2 L185,279.48 L185.4,282.83 L185.8,287.15 L186.2,292.32 L186.6,298.19 L187,304.62 L187.4,311.41 L187.8,318.38 L188.2,325.33 L188.6,332.06 L189,338.38 L189.4,344.13 L189.8,349.15 L190.2,353.33 L190.6,356.61 L191,358.96 L191.4,360.44 L191.8,361.18 L192.2,361.39 L192.2,361.4Z" fill="#5e5e5e" stroke="#1a1a1a" stroke-width="0.7"/>
<path d="M147.8,361.4 L148.2,361.4 L148.6,361.4 L149,361.4 L149.4,361.4 L149.8,361.4 L150.2,361.4 L150.6,361.4 L151,361.4 L151.4,361.4 L151.8,361.4 L152.2,361.4 L152.6,361.4 L153,361.4 L153.4,361.4 L153.8,361.4 L154.2,361.4 L154.6,361.4 L155,361.4 L155.4,361.4 L155.8,361.4 L156.2,361.4 L156.6,361.4 L157,361.4 L157.4,361.4 L157.8,361.4 L158.2,361.4 L158.6,361.4 L159,361.4 L159.4,361.4 L159.8,361.4 L160.2,361.4 L160.6,361.4 L161,361.4 L161.4,361.4 L161.8,361.4 L162.2,361.4 L162.6,361.4 L163,361.4 L163.4,361.4 L163.8,361.4 L164.2,361.4 L164.6,361.4 L165,361.4 L165.4,361.4 L165.8,361.4 L166.2,361.4 L166.6,361.4 L167,361.4 L167.4,361.4 L167.8,361.4 L168.2,361.04 L168.6,359.93 L169,358.9 L169.4,358.6 L169.8,358.33 L170.2,358.08 L170.6,357.88 L171,357.72 L171.4,357.62 L171.8,357.58 L172.2,357.6 L172.6,357.67 L173,357.79 L173.4,357.94 L173.8,358.11 L174.2,358.33 L174.6,358.67 L175,359.06 L175.4,359.44 L175.8,359.77 L176.2,359.96 L176.6,359.84 L177,359.09 L177.4,357.49 L177.8,354.88 L178.2,351.24 L178.6,346.6 L179,341.05 L179.4,334.76 L179.8,327.9 L180.2,320.69 L180.6,313.35 L181,306.1 L181.4,299.18 L181.8,292.78 L182.2,287.11 L182.6,282.33 L183,278.59 L183.4,275.99 L183.8,274.62 L184.2,274.47 L184.6,275.44 L185,277.5 L185.4,280.6 L185.8,284.66 L186.2,289.55 L186.6,295.15 L187,301.29 L187.4,307.81 L187.8,314.51 L188.2,321.16 L188.6,327.53 L189,333.48 L189.4,338.85 L189.8,343.51 L190.2,347.36 L190.6,350.34 L191,352.46 L191.4,353.86 L191.8,354.52 L192.2,354.68 L192.6,354.64 L193,354.6 L193.4,354.57 L193.8,354.54 L194.2,354.52 L194.6,354.5 L195,354.49 L195.4,354.48 L195.8,354.47 L196.2,354.46 L196.6,354.45 L197,354.44 L197.4,354.42 L197.8,354.4 L198.2,354.38 L198.6,354.36 L199,354.34 L199.4,354.33 L199.8,354.31 L200.2,354.3 L200.6,354.29 L201,354.27 L201.4,354.26 L201.8,354.25 L202.2,354.24 L202.6,354.22 L203,354.21 L203.4,354.19 L203.8,354.17 L204.2,354.15 L204.6,354.13 L205,354.1 L205.4,354.07 L205.8,354.04 L206.2,354 L206.6,353.97 L207,353.93 L207.4,353.89 L207.8,353.85 L208.2,353.81 L208.6,353.76 L209,353.72 L209.4,353.68 L209.8,353.63 L210.2,353.59 L210.6,353.55 L211,353.5 L211.4,353.46 L211.8,353.42 L212.2,353.38 L212.6,353.33 L213,353.28 L213.4,353.22 L213.8,353.17 L214.2,353.11 L214.6,353.05 L215,352.99 L215.4,352.93 L215.8,352.88 L216.2,352.83 L216.6,352.79 L217,352.75 L217.4,352.72 L217.8,352.7 L218.2,352.69 L218.6,352.69 L219,352.71 L219.4,352.76 L219.8,352.82 L220.2,352.89 L220.6,352.99 L221,353.1 L221.4,353.23 L221.8,353.37 L222.2,353.53 L222.6,353.71 L223,353.9 L223.4,354.13 L223.8,354.38 L224.2,354.67 L224.6,354.97 L225,355.29 L225.4,355.61 L225.8,355.94 L226.2,356.27 L226.6,356.59 L227,356.9 L227.4,357.25 L227.8,357.62 L228.2,358 L228.6,358.37 L229,358.74 L229.4,359.09 L229.8,359.42 L230.2,359.71 L230.6,359.98 L231,360.27 L231.4,360.5 L231.8,360.69 L232.2,360.85 L232.6,360.98 L233,361.1 L233.4,361.19 L233.8,361.25 L234.2,361.3 L234.6,361.33 L235,361.36 L235.4,361.37 L235.8,361.39 L236.2,361.4 L236.6,361.4 L237,361.4 L237.4,361.4 L237.8,361.4 L238.2,361.4 L238.6,361.4 L239,361.4 L239.4,361.4 L239.8,361.4 L240.2,361.4 L240.6,361.4 L241,361.4 L241.4,361.4 L241.8,361.4 L242.2,361.4 L242.6,361.4 L243,361.4 L243.4,361.4 L243.8,361.4 L244.2,361.4 L244.6,361.4 L245,361.4 L245.4,361.4 L245.8,361.4 L246.2,361.4 L246.6,361.4 L247,361.4 L247.4,361.4 L247.8,361.4 L248.2,361.4 L248.6,361.4 L249,361.4 L249.4,361.4 L249.8,361.4 L250.2,361.4 L250.6,361.4 L251,361.4 L251.4,361.4 L251.8,361.4 L252.2,361.4 L252.6,361.4 L253,361.4 L253.4,361.4 L253.8,361.4 L254.2,361.4 L254.6,361.4 L255,361.4" fill="none" stroke="#000" stroke-width="0.9"/>
<path d="M190,343.79 L191,350.09 L192,351.94 L193,353.36 L194,352.25 L195,352.34 L196,352.41 L197,353.6 L198,353.73 L199,352.9 L200,352.06 L201,353.12 L202,352.54 L203,352.91 L204,351.7 L205,351.42 L206,352.54 L207,351.13 L208,353.09 L209,351.33 L210,351.09 L211,352.57 L212,351.25 L213,351.45 L214,350.43 L215,351.93 L216,351.06 L217,350.21 L218,350.69 L219,351.43 L220,352.07 L221,350.43 L222,351.81 L223,351.11 L224,353.61 L225,352.9 L226,353.72 L227,354.28 L228,357.17 L229,357.32 L230,358.85 L231,358.02" fill="none" stroke="#111" stroke-width="0.7"/>
<path d="M147.2,273.8V361.4H255.6" fill="none" stroke="#000" stroke-width="1"/>
<path d="M144.8,361.4H147.2 M145.9,358.87H147.2 M145.9,356.34H147.2 M145.9,353.81H147.2 M145.9,351.28H147.2 M144.8,348.75H147.2 M145.9,346.22H147.2 M145.9,343.69H147.2 M145.9,341.16H147.2 M145.9,338.63H147.2 M144.8,336.1H147.2 M145.9,333.57H147.2 M145.9,331.04H147.2 M145.9,328.51H147.2 M145.9,325.98H147.2 M144.8,323.45H147.2 M145.9,320.92H147.2 M145.9,318.39H147.2 M145.9,315.86H147.2 M145.9,313.33H147.2 M144.8,310.8H147.2 M145.9,308.27H147.2 M145.9,305.74H147.2 M145.9,303.21H147.2 M145.9,300.68H147.2 M144.8,298.15H147.2 M145.9,295.62H147.2 M145.9,293.09H147.2 M145.9,290.56H147.2 M145.9,288.03H147.2 M144.8,285.5H147.2 M145.9,282.97H147.2 M145.9,280.44H147.2 M145.9,277.91H147.2 M145.9,275.38H147.2" stroke="#111" stroke-width="0.7"/>
<text transform="translate(142.2,361.4) rotate(-90)" font-size="3.5" text-anchor="middle" fill="#333">0</text>
<text transform="translate(142.2,348.75) rotate(-90)" font-size="3.5" text-anchor="middle" fill="#333">100</text>
<text transform="translate(142.2,336.1) rotate(-90)" font-size="3.5" text-anchor="middle" fill="#333">200</text>
<text transform="translate(142.2,323.45) rotate(-90)" font-size="3.5" text-anchor="middle" fill="#333">300</text>
<text transform="translate(142.2,310.8) rotate(-90)" font-size="3.5" text-anchor="middle" fill="#333">400</text>
<text transform="translate(142.2,298.15) rotate(-90)" font-size="3.5" text-anchor="middle" fill="#333">500</text>
<text transform="translate(142.2,285.5) rotate(-90)" font-size="3.5" text-anchor="middle" fill="#333">600</text>
<text transform="translate(139.3,317.6) rotate(-90)" font-size="3.4" text-anchor="middle" fill="#444">Number</text>
<text x="147.4" y="369.1" font-size="3.5" text-anchor="middle" fill="#333">0</text>
<text x="168.9" y="369.1" font-size="3.5" text-anchor="middle" fill="#333">30</text>
<text x="190.8" y="369.1" font-size="3.5" text-anchor="middle" fill="#333">60</text>
<text x="212.2" y="369.1" font-size="3.5" text-anchor="middle" fill="#333">90</text>
<text x="233.7" y="369.1" font-size="3.5" text-anchor="middle" fill="#333">120</text>
<text x="254.8" y="369.1" font-size="3.5" text-anchor="middle" fill="#333">150</text>
<path d="M147.4,361.4v3.5 M151.7,361.4v1.6 M156,361.4v1.6 M160.3,361.4v1.6 M164.6,361.4v1.6 M168.9,361.4v3.5 M173.28,361.4v1.6 M177.66,361.4v1.6 M182.04,361.4v1.6 M186.42,361.4v1.6 M190.8,361.4v3.5 M195.08,361.4v1.6 M199.36,361.4v1.6 M203.64,361.4v1.6 M207.92,361.4v1.6 M212.2,361.4v3.5 M216.5,361.4v1.6 M220.8,361.4v1.6 M225.1,361.4v1.6 M229.4,361.4v1.6 M233.7,361.4v3.5 M237.92,361.4v1.6 M242.14,361.4v1.6 M246.36,361.4v1.6 M250.58,361.4v1.6 M254.8,361.4v3.5" stroke="#111" stroke-width="0.7"/>
<text x="180.3" y="372.8" font-size="3.7" fill="#444" textLength="42" lengthAdjust="spacingAndGlyphs">Channels (FL2-A/FL2-Area)</text>
<path d="M183.8,361.1 l1.5,2.8 h-3z" fill="#000"/>
<rect x="217.6" y="276.8" width="4.4" height="4.4" fill="#d4d4d4" stroke="#333" stroke-width="0.8"/>
<text x="223.1" y="280.9" font-size="5.0" fill="#222" stroke="#222" stroke-width="0.08">Debris</text>
<rect x="217.6" y="282.8" width="4.4" height="4.4" fill="#e8e8e8" stroke="#333" stroke-width="0.8"/>
<text x="223.1" y="286.9" font-size="5.0" fill="#222" stroke="#222" stroke-width="0.08">Aggregates</text>
<rect x="217.6" y="288.8" width="4.4" height="4.4" fill="#666" stroke="#333" stroke-width="0.8"/>
<text x="223.1" y="292.9" font-size="5.0" fill="#222" stroke="#222" stroke-width="0.08">G1</text>
<rect x="217.6" y="294.8" width="4.4" height="4.4" fill="#333" stroke="#333" stroke-width="0.8"/>
<text x="223.1" y="298.9" font-size="5.0" fill="#222" stroke="#222" stroke-width="0.08">G2</text>
<rect x="217.6" y="300.8" width="4.4" height="4.4" fill="url(#hatch2)" stroke="#333" stroke-width="0.8"/>
<text x="223.1" y="304.9" font-size="5.0" fill="#222" stroke="#222" stroke-width="0.08">S</text>
<text x="211.6" y="320" font-size="6.6" fill="#2a2a2a" stroke="#2a2a2a" stroke-width="0.1">G1</text>
<text x="224.3" y="320" font-size="6.6" fill="#2a2a2a" stroke="#2a2a2a" stroke-width="0.1">66%</text>
<text x="211.6" y="328" font-size="6.6" fill="#2a2a2a" stroke="#2a2a2a" stroke-width="0.1">S</text>
<text x="224.3" y="328" font-size="6.6" fill="#2a2a2a" stroke="#2a2a2a" stroke-width="0.1">24%</text>
<text x="334.3" y="17.9" font-size="14.8" font-weight="bold" fill="#000">B.</text>
<text x="541.6" y="8.6" font-size="10.2" fill="#000">* p ≤ 0.05 vs. control</text>
<path d="M374.7,24.4V249.5" stroke="#333" stroke-width="1"/>
<path d="M371.2,213.6H625.4" stroke="#333" stroke-width="1"/>
<path d="M371.1,213.6H374.7" stroke="#111" stroke-width="1"/>
<text x="365.6" y="217.3" font-size="10.5" text-anchor="end" fill="#000">0</text>
<path d="M371.1,177.56H374.7" stroke="#111" stroke-width="1"/>
<text x="365.6" y="181.26" font-size="10.5" text-anchor="end" fill="#000">20</text>
<path d="M371.1,141.52H374.7" stroke="#111" stroke-width="1"/>
<text x="365.6" y="145.22" font-size="10.5" text-anchor="end" fill="#000">40</text>
<path d="M371.1,105.48H374.7" stroke="#111" stroke-width="1"/>
<text x="365.6" y="109.18" font-size="10.5" text-anchor="end" fill="#000">60</text>
<path d="M371.1,69.44H374.7" stroke="#111" stroke-width="1"/>
<text x="365.6" y="73.14" font-size="10.5" text-anchor="end" fill="#000">80</text>
<path d="M371.1,33.4H374.7" stroke="#111" stroke-width="1"/>
<text x="365.6" y="37.1" font-size="10.5" text-anchor="end" fill="#000">100</text>
<path d="M457.5,213.6V249.3" stroke="#555" stroke-width="1"/>
<path d="M541.3,213.6V249.3" stroke="#555" stroke-width="1"/>
<path d="M625.3,213.6V249.3" stroke="#555" stroke-width="1"/>
<text transform="translate(347.3,119.2) rotate(-90)" font-size="10.8" font-weight="bold" text-anchor="middle" fill="#000">Percent</text>
<rect x="386.7" y="33.5" width="17" height="35.1" fill="#fff" stroke="#555" stroke-width="0.9"/>
<rect x="386.7" y="68.6" width="17" height="33.5" fill="#a6a6a6" stroke="#555" stroke-width="0.9"/>
<rect x="386.7" y="102.1" width="17" height="111.5" fill="#000" stroke="#000" stroke-width="0.9"/>
<rect x="428.5" y="32.5" width="17" height="26.7" fill="#fff" stroke="#555" stroke-width="0.9"/>
<rect x="428.5" y="59.2" width="17" height="33.1" fill="#a6a6a6" stroke="#555" stroke-width="0.9"/>
<rect x="428.5" y="92.3" width="17" height="121.3" fill="#000" stroke="#000" stroke-width="0.9"/>
<rect x="470.4" y="33.5" width="17" height="64.7" fill="#fff" stroke="#555" stroke-width="0.9"/>
<rect x="470.4" y="98.2" width="17" height="38.9" fill="#a6a6a6" stroke="#555" stroke-width="0.9"/>
<rect x="470.4" y="137.1" width="17" height="76.5" fill="#000" stroke="#000" stroke-width="0.9"/>
<rect x="512.4" y="31.2" width="17" height="63" fill="#fff" stroke="#555" stroke-width="0.9"/>
<rect x="512.4" y="94.2" width="17" height="23.8" fill="#a6a6a6" stroke="#555" stroke-width="0.9"/>
<rect x="512.4" y="118.0" width="17" height="95.6" fill="#000" stroke="#000" stroke-width="0.9"/>
<rect x="554.3" y="33.5" width="17" height="59.8" fill="#fff" stroke="#555" stroke-width="0.9"/>
<rect x="554.3" y="93.3" width="17" height="28.8" fill="#a6a6a6" stroke="#555" stroke-width="0.9"/>
<rect x="554.3" y="122.1" width="17" height="91.5" fill="#000" stroke="#000" stroke-width="0.9"/>
<rect x="595.8" y="33.5" width="17" height="43.4" fill="#fff" stroke="#555" stroke-width="0.9"/>
<rect x="595.8" y="76.9" width="17" height="18" fill="#a6a6a6" stroke="#555" stroke-width="0.9"/>
<rect x="595.8" y="94.9" width="17" height="118.7" fill="#000" stroke="#000" stroke-width="0.9"/>
<text x="436.6" y="52.2" font-size="12.5" font-weight="bold" text-anchor="middle" fill="#000">*</text>
<text x="602.6" y="58.1" font-size="12.5" font-weight="bold" text-anchor="middle" fill="#000">*</text>
<text x="436.6" y="142.8" font-size="12.5" font-weight="bold" text-anchor="middle" fill="#fff">*</text>
<text x="520.7" y="139.8" font-size="12.5" font-weight="bold" text-anchor="middle" fill="#fff">*</text>
<text x="602.6" y="139.8" font-size="12.5" font-weight="bold" text-anchor="middle" fill="#fff">*</text>
<text x="395.2" y="229.4" font-size="10" text-anchor="middle" fill="#000">Control</text>
<text x="437.2" y="229.4" font-size="10" text-anchor="middle" fill="#000">FTY720</text>
<text x="479.1" y="229.4" font-size="10" text-anchor="middle" fill="#000">Control</text>
<text x="521.0" y="229.4" font-size="10" text-anchor="middle" fill="#000">FTY720</text>
<text x="562.9" y="229.4" font-size="10" text-anchor="middle" fill="#000">Control</text>
<text x="604.3" y="229.4" font-size="10" text-anchor="middle" fill="#000">FTY720</text>
<text x="416.2" y="247.6" font-size="10" text-anchor="middle" fill="#000">D425</text>
<text x="499.4" y="247.6" font-size="10" text-anchor="middle" fill="#000">D341</text>
<text x="583.3" y="247.6" font-size="10" text-anchor="middle" fill="#000">D384</text>
<rect x="620.4" y="105.9" width="27.4" height="43.6" fill="#fff" stroke="#777" stroke-width="0.9"/>
<rect x="624.4" y="110.7" width="4.4" height="4.6" fill="#fff" stroke="#555" stroke-width="0.8"/>
<text transform="translate(630.9,116.3) scale(1.17,1)" font-size="9" fill="#000">S</text>
<rect x="624.4" y="125.6" width="4.4" height="4.6" fill="#a6a6a6" stroke="#555" stroke-width="0.8"/>
<text transform="translate(630.9,131.2) scale(1.17,1)" font-size="9" fill="#000">G2</text>
<rect x="624.4" y="140.5" width="4.4" height="4.6" fill="#000" stroke="#555" stroke-width="0.8"/>
<text transform="translate(630.9,146.1) scale(1.17,1)" font-size="9" fill="#000">G1</text>
<text x="285.2" y="279.6" font-size="13.2" font-weight="bold" fill="#000">C.</text>
<path d="M297.9,289.7H683.1 M297.9,301.3H683.1 M297.9,312.8H683.1 M297.9,324.6H683.1 M297.9,336.3H683.1 M297.9,348.1H683.1 M297.9,359.9H683.1 M297.9,289.7V359.9 M683.1,289.7V359.9 M352.6,289.7V312.8 M462.9,289.7V312.8 M573.1,289.7V312.8 M407.7,301.3V312.8 M517.8,301.3V312.8 M628.1,301.3V312.8 M352.6,324.6V359.9 M407.7,324.6V359.9 M462.9,324.6V359.9 M517.8,324.6V359.9 M573.1,324.6V359.9 M628.1,324.6V359.9" stroke="#333" stroke-width="0.9" fill="none"/>
<text x="407.75" y="298.9" font-size="7.3" font-weight="bold" text-anchor="middle" fill="#111">D425</text>
<text x="518" y="298.9" font-size="7.3" font-weight="bold" text-anchor="middle" fill="#111">D341</text>
<text x="628.1" y="298.9" font-size="7.3" font-weight="bold" text-anchor="middle" fill="#111">D384</text>
<text x="367.75" y="310.4" font-size="7.6" fill="#111" textLength="24.8" lengthAdjust="spacingAndGlyphs">Control</text>
<text x="423.1" y="310.4" font-size="7.6" fill="#111" textLength="24.4" lengthAdjust="spacingAndGlyphs">FTY720</text>
<text x="477.95" y="310.4" font-size="7.6" fill="#111" textLength="24.8" lengthAdjust="spacingAndGlyphs">Control</text>
<text x="533.25" y="310.4" font-size="7.6" fill="#111" textLength="24.4" lengthAdjust="spacingAndGlyphs">FTY720</text>
<text x="588.2" y="310.4" font-size="7.6" fill="#111" textLength="24.8" lengthAdjust="spacingAndGlyphs">Control</text>
<text x="643.4" y="310.4" font-size="7.6" fill="#111" textLength="24.4" lengthAdjust="spacingAndGlyphs">FTY720</text>
<text x="301.6" y="333.9" font-size="7.3" fill="#111">G1 (%)</text>
<text x="357.2" y="333.9" font-size="7.3" fill="#111">61.83 ± 0.33</text>
<text x="412.3" y="333.9" font-size="7.3" font-weight="bold" fill="#111">67.38 ± 0.43</text>
<text x="467.5" y="333.9" font-size="7.3" fill="#111">42.43 ± 0.96</text>
<text x="522.4" y="333.9" font-size="7.3" font-weight="bold" fill="#111">51.23 ± 1.45</text>
<text x="577.7" y="333.9" font-size="7.3" fill="#111">50.66 ± 3.47</text>
<text x="632.7" y="333.9" font-size="7.3" font-weight="bold" fill="#111">65.69 ± 0.14</text>
<text x="301.6" y="345.6" font-size="7.3" fill="#111">G2 (%)</text>
<text x="357.2" y="345.6" font-size="7.3" fill="#111">18.86 ± 0.53</text>
<text x="412.3" y="345.6" font-size="7.3" fill="#111">18.21 ± 0.12</text>
<text x="467.5" y="345.6" font-size="7.3" fill="#111">21.66 ± 1.48</text>
<text x="522.4" y="345.6" font-size="7.3" font-weight="bold" fill="#111">13.12 ± 1.09</text>
<text x="577.7" y="345.6" font-size="7.3" fill="#111">16.18 ± 0.85</text>
<text x="632.7" y="345.6" font-size="7.3" font-weight="bold" fill="#111">10.13 ± 0.30</text>
<text x="301.6" y="357.4" font-size="7.3" fill="#111">S (%)</text>
<text x="357.2" y="357.4" font-size="7.3" fill="#111">19.32 ± 0.68</text>
<text x="412.3" y="357.4" font-size="7.3" font-weight="bold" fill="#111">14.92 ± 0.38</text>
<text x="467.5" y="357.4" font-size="7.3" fill="#111">35.98 ± 2.21</text>
<text x="522.4" y="357.4" font-size="7.3" fill="#111">35.61 ± 0.78</text>
<text x="577.7" y="357.4" font-size="7.3" fill="#111">33.16 ± 2.67</text>
<text x="632.7" y="357.4" font-size="7.3" font-weight="bold" fill="#111">24.17 ± 0.44</text>
<text transform="translate(299.1,370.4) scale(0.84,1)" word-spacing="1.72" font-size="9" fill="#111">Bolded numerals represent significant difference from control (p ≤ 0.05).</text>
</svg></body></html>
